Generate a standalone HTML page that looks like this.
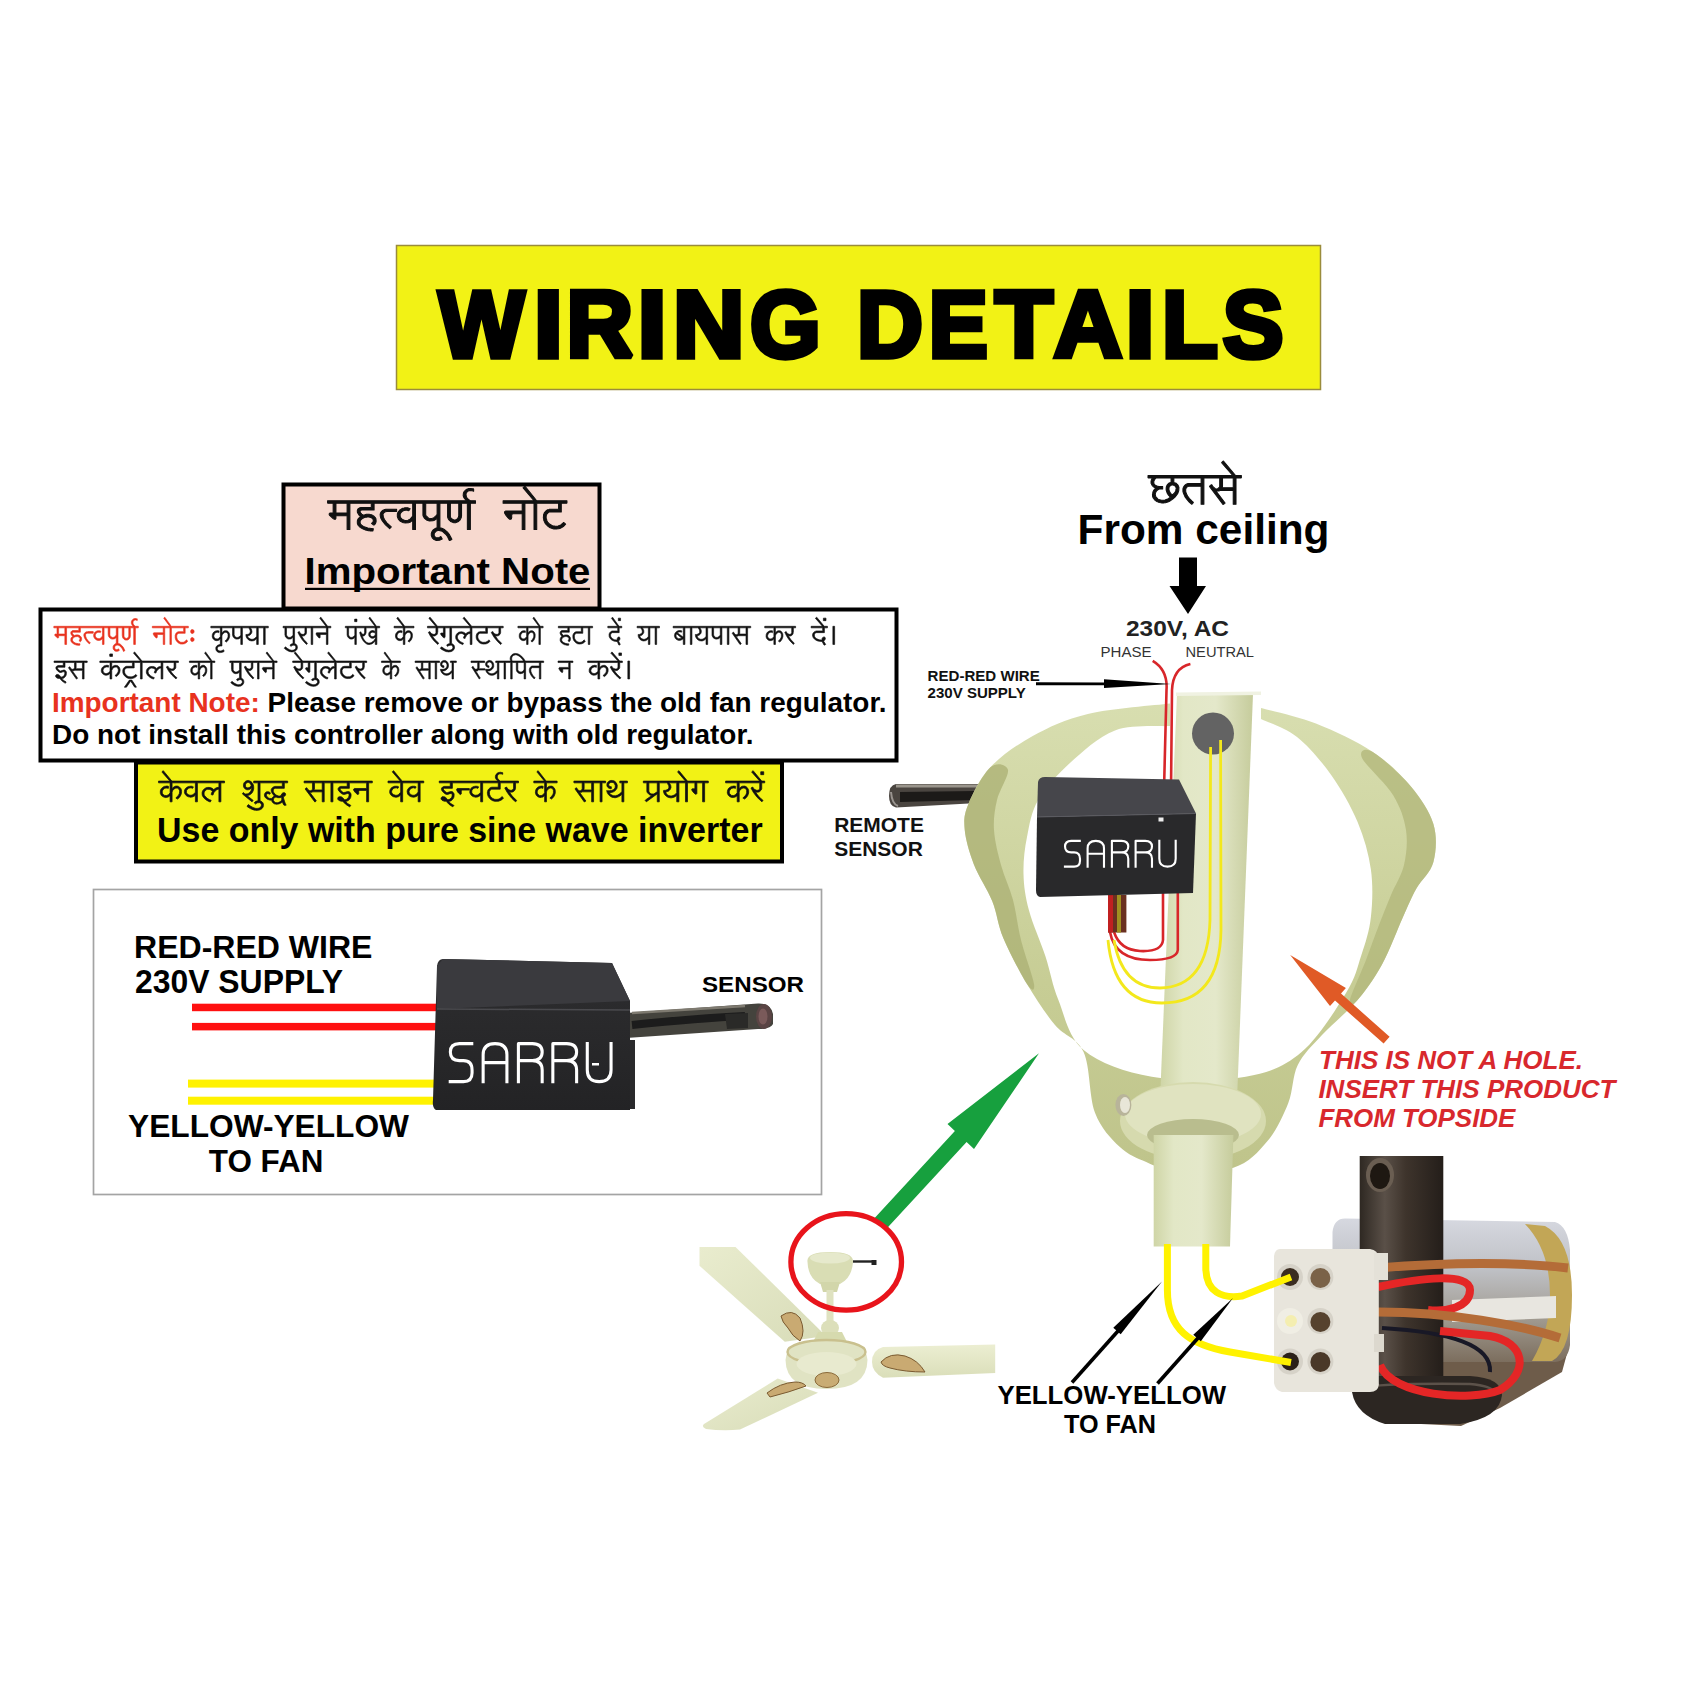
<!DOCTYPE html>
<html><head><meta charset="utf-8">
<style>
html,body{margin:0;padding:0;background:#fff;width:1688px;height:1688px;overflow:hidden}
svg{display:block}
text{font-family:"Liberation Sans",sans-serif}
.b{font-weight:bold}
</style></head>
<body>
<svg width="1688" height="1688" viewBox="0 0 1688 1688">
<defs>
 <linearGradient id="poleG" x1="0" x2="1" y1="0" y2="0">
  <stop offset="0" stop-color="#cfd5a6"/><stop offset="0.25" stop-color="#e2e7c6"/><stop offset="0.6" stop-color="#e4e8ca"/><stop offset="1" stop-color="#c6cc9c"/>
 </linearGradient>
 <linearGradient id="canG" gradientUnits="userSpaceOnUse" x1="0" y1="700" x2="0" y2="1170">
  <stop offset="0" stop-color="#d8deb0"/><stop offset="0.3" stop-color="#d0d6a3"/><stop offset="0.6" stop-color="#c7cd95"/><stop offset="1" stop-color="#bfc48b"/>
 </linearGradient>
 <linearGradient id="bladeG1" x1="0" x2="1" y1="0" y2="1">
  <stop offset="0" stop-color="#e9ecce"/><stop offset="1" stop-color="#d8dcb8"/>
 </linearGradient>
 <linearGradient id="bladeG2" x1="0" x2="0" y1="0" y2="1">
  <stop offset="0" stop-color="#eceed2"/><stop offset="1" stop-color="#dadeb9"/>
 </linearGradient>
 <linearGradient id="capG" x1="0" x2="0" y1="0" y2="1">
  <stop offset="0" stop-color="#d6d8e0"/><stop offset="0.35" stop-color="#bfc1c6"/><stop offset="0.7" stop-color="#a09a90"/><stop offset="1" stop-color="#7c6e5e"/>
 </linearGradient>
 <linearGradient id="rodG" x1="0" x2="1" y1="0" y2="0">
  <stop offset="0" stop-color="#2e2822"/><stop offset="0.3" stop-color="#5a5048"/><stop offset="0.55" stop-color="#3e342c"/><stop offset="1" stop-color="#241e1a"/>
 </linearGradient>
 <linearGradient id="boxG" x1="0" x2="0" y1="0" y2="1">
  <stop offset="0" stop-color="#2e2e30"/><stop offset="1" stop-color="#232325"/>
 </linearGradient>
<g id="logoShape" fill="none" stroke="#fff" stroke-width="7.5" stroke-linejoin="round">
 <path d="M60 4 L26 4 Q4 4 4 24.5 Q4 45 26 45 L36 45 Q57 45 57 68 L57 75 Q57 96 36 96 L0 96"/>
 <path d="M84 100 L84 31 Q84 4 113 4 Q142 4 142 31 L142 100 M84 50 L142 50"/>
 <path d="M170 100 L170 4 L204 4 Q228 4 228 24.5 Q228 45 204 45 L170 45 M204 45 Q228 45 228 68 L228 100"/>
 <path d="M254 100 L254 4 L288 4 Q312 4 312 24.5 Q312 45 288 45 L254 45 M288 45 Q312 45 312 68 L312 100"/>
 <path d="M338 0 L338 68 Q338 96 367 96 Q396 96 396 68 L396 0"/>
</g>
</defs>

<!-- ===== Title banner ===== -->
<rect x="396.5" y="245.5" width="924" height="144" fill="#f2f215" stroke="#9a8c3c" stroke-width="1.5"/>
<text class="b" transform="translate(438.75 356.95) scale(0.9597 1)" font-size="94.5" fill="#000" stroke="#000" stroke-width="5.5" stroke-linejoin="miter" stroke-miterlimit="2">W</text>
<text class="b" transform="translate(533.84 356.95) scale(1.1092 1)" font-size="94.5" fill="#000" stroke="#000" stroke-width="5.5" stroke-linejoin="miter" stroke-miterlimit="2">I</text>
<text class="b" transform="translate(566.41 356.95) scale(0.9758 1)" font-size="94.5" fill="#000" stroke="#000" stroke-width="5.5" stroke-linejoin="miter" stroke-miterlimit="2">R</text>
<text class="b" transform="translate(637.44 356.95) scale(1.1092 1)" font-size="94.5" fill="#000" stroke="#000" stroke-width="5.5" stroke-linejoin="miter" stroke-miterlimit="2">I</text>
<text class="b" transform="translate(673.06 356.95) scale(1.0466 1)" font-size="94.5" fill="#000" stroke="#000" stroke-width="5.5" stroke-linejoin="miter" stroke-miterlimit="2">N</text>
<text class="b" transform="translate(749.92 356.95) scale(0.9615 1)" font-size="94.5" fill="#000" stroke="#000" stroke-width="5.5" stroke-linejoin="miter" stroke-miterlimit="2">G</text>
<text class="b" transform="translate(856.95 356.95) scale(0.9660 1)" font-size="94.5" fill="#000" stroke="#000" stroke-width="5.5" stroke-linejoin="miter" stroke-miterlimit="2">D</text>
<text class="b" transform="translate(928.76 356.95) scale(0.9365 1)" font-size="94.5" fill="#000" stroke="#000" stroke-width="5.5" stroke-linejoin="miter" stroke-miterlimit="2">E</text>
<text class="b" transform="translate(995.09 356.95) scale(1.0009 1)" font-size="94.5" fill="#000" stroke="#000" stroke-width="5.5" stroke-linejoin="miter" stroke-miterlimit="2">T</text>
<text class="b" transform="translate(1053.70 356.95) scale(1.0029 1)" font-size="94.5" fill="#000" stroke="#000" stroke-width="5.5" stroke-linejoin="miter" stroke-miterlimit="2">A</text>
<text class="b" transform="translate(1125.44 356.95) scale(1.1092 1)" font-size="94.5" fill="#000" stroke="#000" stroke-width="5.5" stroke-linejoin="miter" stroke-miterlimit="2">I</text>
<text class="b" transform="translate(1161.95 356.95) scale(0.9667 1)" font-size="94.5" fill="#000" stroke="#000" stroke-width="5.5" stroke-linejoin="miter" stroke-miterlimit="2">L</text>
<text class="b" transform="translate(1222.83 356.95) scale(0.9643 1)" font-size="94.5" fill="#000" stroke="#000" stroke-width="5.5" stroke-linejoin="miter" stroke-miterlimit="2">S</text>

<!-- ===== Important note boxes ===== -->
<rect x="283.5" y="484.5" width="316" height="124" fill="#f7d9cf" stroke="#000" stroke-width="4"/>
<g transform="translate(318.96 471.82) scale(0.23260 0.22385)"><path fill="#111" stroke="#111" stroke-width="4.5" stroke-linejoin="round" fill-rule="evenodd" d="M334 167 287 167 286 168 283 168 273 173 268 178 264 185 264 189 263 190 264 200 266 207 271 217 286 237 304 254 311 246 292 228 284 217 277 203 276 194 275 193 276 188 278 184 283 180 291 177 334 177ZM673 129 651 129 646 126 637 117 633 109 633 105 632 104 633 96 636 91 640 87 646 84 656 84 665 87 665 77 664 76 655 75 654 74 648 74 647 75 642 75 633 79 625 87 621 95 620 106 622 113 627 121 634 128 633 129 37 129 37 139 38 140 60 140 61 141 61 183 60 184 48 184 46 185 44 188 44 192 46 195 61 209 66 212 71 212 73 208 73 197 74 196 120 196 121 197 121 258 133 258 133 141 134 140 224 140 225 141 225 158 224 159 180 159 179 160 176 160 171 163 167 167 165 172 165 180 166 183 172 193 179 200 170 208 167 213 165 219 165 230 167 236 170 241 177 248 188 255 203 261 207 261 212 263 218 263 219 264 232 264 234 254 210 251 191 244 185 240 179 233 177 228 177 221 180 215 185 210 193 205 199 203 205 203 206 202 216 202 217 203 220 203 228 207 233 213 233 216 234 217 232 225 226 230 235 238 237 238 242 233 245 226 245 223 246 222 245 210 242 204 235 197 226 192 223 192 218 190 204 190 192 194 184 189 179 183 177 179 177 175 182 171 237 171 237 141 238 140 402 140 403 141 403 198 393 210 383 216 371 217 364 215 356 210 351 204 349 199 349 190 352 183 359 176 365 173 373 172 374 171 381 172 384 174 387 173 392 165 383 161 368 161 367 162 360 163 348 170 339 182 337 188 337 201 341 211 350 221 359 226 365 228 369 228 370 229 385 228 394 224 402 217 403 218 403 258 415 258 415 141 416 140 446 140 447 141 447 194 449 200 454 208 462 215 475 220 490 219 499 215 507 209 508 210 508 250 502 252 494 257 489 262 485 269 483 275 483 285 487 295 495 303 505 307 518 306 530 300 524 289 516 294 507 295 502 293 497 288 495 283 496 274 504 265 511 262 518 262 519 263 526 264 533 268 545 279 553 290 560 306 562 307 571 303 571 300 560 279 554 271 541 259 531 253 525 251 521 251 520 250 520 141 521 140 552 140 553 141 553 202 555 208 559 215 566 222 578 227 589 227 600 222 606 216 612 204 612 200 613 199 613 141 614 140 637 140 638 141 638 258 651 258 651 141 652 140 673 140ZM566 140 600 140 601 141 601 198 600 199 600 202 596 209 593 212 587 215 580 215 572 211 567 205 565 200 565 141ZM460 140 507 140 508 141 508 189 504 196 494 205 486 208 473 207 469 205 460 195 459 192 459 141ZM73 141 74 140 120 140 121 141 121 183 120 184 74 184 73 183Z"/></g><g transform="translate(322.33 471.82) scale(0.22737 0.22385)"><path fill="#111" stroke="#111" stroke-width="4.5" stroke-linejoin="round" fill-rule="evenodd" d="M795 129 795 140 878 140 879 141 879 174 878 175 807 175 803 177 801 180 802 185 808 195 817 206 824 212 829 212 832 209 832 206 833 205 833 191 836 188 839 187 878 187 879 188 879 258 891 258 891 141 892 140 930 140 931 141 931 258 943 258 943 141 944 140 1038 140 1039 141 1039 166 1038 167 999 167 998 168 991 169 986 172 977 182 973 192 972 206 973 207 974 217 979 228 983 234 994 245 1002 250 1018 255 1033 255 1034 254 1040 254 1047 252 1060 245 1070 234 1064 228 1060 226 1058 229 1049 237 1037 242 1023 243 1022 242 1016 242 1010 240 999 233 991 224 987 217 987 214 985 210 984 200 985 199 985 194 988 188 995 181 1000 179 1051 179 1051 141 1052 140 1075 140 1076 139 1076 129 943 129 938 124 935 119 891 64 883 71 884 73 930 128 929 129Z"/></g>
<text id="t_imp" class="b" x="304.5" y="584" font-size="36.3" textLength="286" lengthAdjust="spacingAndGlyphs" fill="#000">Important Note</text>
<rect x="305" y="587.8" width="285" height="2.2" fill="#000"/>

<rect x="40.5" y="609.5" width="856" height="151" fill="#fff" stroke="#000" stroke-width="4"/>
<g transform="translate(48.90 608.14) scale(0.13290 0.14077)"><path fill="#e8321e" stroke="#e8321e" stroke-width="4.5" stroke-linejoin="round" fill-rule="evenodd" d="M333 166 294 166 293 167 282 168 273 173 267 179 263 188 263 197 264 198 265 205 272 219 284 235 304 254 312 247 294 230 284 217 277 202 277 199 276 198 276 188 283 180 288 178 333 178 334 177 334 167ZM673 129 651 129 645 125 636 115 633 108 633 97 638 89 647 84 654 84 665 88 665 76 657 75 656 74 645 74 638 76 629 82 624 88 620 98 621 111 627 121 634 128 633 129 37 129 37 140 60 140 61 141 61 183 60 184 48 184 46 185 44 188 44 192 45 194 62 210 68 213 70 213 73 209 73 197 74 196 119 196 120 197 120 258 133 258 133 141 134 140 224 140 225 141 225 158 224 159 179 159 172 162 167 167 165 171 165 181 166 184 171 192 179 200 169 209 165 218 165 231 168 238 178 249 184 253 199 260 202 260 211 263 216 263 217 264 232 264 234 257 234 253 222 253 221 252 211 251 210 250 203 249 188 242 180 234 177 227 178 219 184 211 194 205 200 203 208 203 209 202 215 202 222 204 226 206 233 214 233 217 234 218 233 219 233 222 230 227 226 230 236 239 239 237 243 232 246 224 246 213 244 207 234 196 223 191 220 191 219 190 203 190 202 191 195 192 192 194 187 191 179 183 177 178 177 175 182 171 237 171 237 141 238 140 402 140 403 141 403 198 394 209 387 214 382 216 379 216 378 217 368 216 359 212 352 205 349 198 349 191 351 185 353 182 361 175 369 172 380 172 386 175 392 165 384 161 367 161 360 163 348 170 343 175 337 187 337 202 342 213 350 221 358 226 368 229 381 229 391 226 396 223 402 217 403 218 403 258 415 258 415 141 416 140 445 140 446 141 446 188 447 189 447 195 452 206 463 216 474 220 487 220 488 219 491 219 501 214 506 210 507 211 507 250 495 256 488 263 485 268 483 274 483 286 487 295 490 299 496 304 504 307 515 307 522 305 529 301 530 299 524 289 520 292 512 295 504 294 497 288 495 281 496 275 498 271 504 265 512 262 522 263 531 267 543 277 552 289 558 300 558 302 561 308 568 304 572 303 569 297 569 295 561 280 556 273 540 258 531 253 522 251 520 249 520 141 521 140 551 140 552 141 552 195 553 196 554 206 558 214 567 223 577 227 590 227 600 222 609 212 612 205 612 202 613 201 613 141 614 140 637 140 638 141 638 258 651 258 651 141 652 140 673 140ZM566 140 600 140 601 141 601 195 600 196 600 201 598 206 591 213 586 215 581 215 574 212 568 206 565 199 565 141ZM460 140 506 140 507 141 507 191 503 197 495 204 484 208 478 208 468 204 462 198 459 191 459 141ZM73 141 74 140 119 140 120 141 120 183 119 184 74 184 73 183Z"/></g><g transform="translate(52.75 608.14) scale(0.12831 0.14077)"><path fill="#e8321e" stroke="#e8321e" stroke-width="4.5" stroke-linejoin="round" fill-rule="evenodd" d="M1084 209 1080 211 1076 216 1075 219 1075 227 1076 230 1080 235 1084 237 1091 237 1098 233 1101 228 1102 222 1100 216 1094 210ZM1084 152 1080 154 1075 161 1075 170 1077 175 1080 178 1084 180 1092 180 1097 177 1101 171 1101 168 1102 167 1101 161 1098 156 1094 153ZM776 129 776 140 860 140 861 141 861 174 860 175 788 175 783 179 783 184 788 193 795 202 804 211 808 213 811 212 814 209 814 206 815 205 815 191 818 188 821 188 822 187 860 187 861 188 861 258 873 258 873 141 874 140 912 140 913 141 913 258 925 258 925 141 926 140 1019 140 1020 141 1020 166 1019 167 979 167 969 171 962 177 959 181 954 193 954 211 955 212 956 219 962 231 974 244 983 250 997 255 1016 255 1017 254 1022 254 1029 252 1042 245 1052 234 1042 225 1033 235 1024 240 1018 242 1006 243 1005 242 998 242 992 240 982 234 972 223 967 211 966 197 967 196 967 193 971 186 975 182 979 180 982 180 983 179 1032 179 1032 141 1033 140 1057 140 1057 129 925 129 920 124 917 119 873 64 870 66 865 72 910 126 911 128 910 129Z"/></g><g transform="translate(44.39 608.14) scale(0.13564 0.14077)"><path fill="#111" stroke="#111" stroke-width="4.5" stroke-linejoin="round" fill-rule="evenodd" d="M1227 129 1227 140 1296 140 1297 141 1297 202 1285 215 1275 219 1263 218 1253 210 1250 204 1249 196 1253 184 1263 175 1272 172 1279 172 1286 175 1287 167 1288 166 1288 162 1286 161 1283 161 1282 160 1271 160 1270 161 1262 162 1249 170 1243 177 1238 189 1238 195 1237 196 1238 206 1243 217 1251 225 1256 228 1266 231 1280 230 1289 226 1296 220 1297 221 1297 258 1296 259 1290 259 1283 261 1274 266 1269 271 1264 280 1264 293 1265 294 1265 297 1269 304 1274 309 1280 313 1289 316 1300 316 1301 315 1311 314 1317 311 1319 311 1326 306 1320 295 1314 300 1312 300 1306 303 1303 303 1302 304 1292 304 1291 303 1288 303 1284 301 1277 294 1275 287 1277 280 1284 273 1290 270 1294 270 1295 269 1309 269 1309 197 1313 187 1321 178 1325 175 1333 172 1343 173 1346 175 1351 181 1354 188 1354 202 1353 203 1353 206 1351 209 1351 211 1344 222 1331 234 1342 241 1349 235 1357 225 1361 218 1366 203 1366 187 1364 180 1358 170 1350 163 1341 160 1328 161 1318 166 1310 175 1309 174 1309 141 1310 140 1386 140 1387 141 1387 191 1391 203 1401 214 1408 218 1415 220 1425 220 1426 219 1430 219 1436 217 1447 209 1448 210 1448 258 1460 258 1460 141 1461 140 1505 140 1511 147 1516 156 1518 168 1517 169 1517 172 1514 177 1507 183 1495 187 1486 187 1485 188 1487 201 1492 212 1503 224 1515 231 1523 232 1524 233 1536 233 1537 232 1544 231 1554 226 1564 218 1565 219 1565 258 1577 258 1577 141 1578 140 1615 140 1616 141 1616 258 1628 258 1628 141 1629 140 1651 140 1651 129ZM1564 140 1565 141 1565 200 1554 213 1543 219 1536 221 1525 221 1524 220 1521 220 1509 214 1503 208 1500 203 1499 198 1502 196 1510 194 1517 190 1525 182 1530 171 1530 162 1529 161 1528 154 1524 146 1520 141 1521 140ZM1400 140 1447 140 1448 141 1448 190 1446 194 1436 204 1426 208 1417 208 1410 205 1403 199 1399 189 1399 141Z"/></g><g transform="translate(50.77 608.14) scale(0.13244 0.14077)"><path fill="#111" stroke="#111" stroke-width="4.5" stroke-linejoin="round" fill-rule="evenodd" d="M2115 129 2091 129 2039 64 2035 67 2031 72 2078 128 2077 129 1754 129 1754 139 1755 140 1767 140 1768 141 1768 191 1769 192 1770 199 1774 206 1785 216 1796 220 1811 219 1819 216 1828 209 1829 210 1829 251 1828 252 1821 253 1810 259 1806 264 1815 272 1819 268 1824 265 1830 263 1838 263 1843 265 1847 269 1850 275 1850 283 1848 287 1841 294 1835 297 1828 298 1827 299 1816 299 1803 295 1788 287 1772 275 1770 276 1763 285 1767 289 1780 298 1796 306 1805 309 1814 310 1815 311 1827 311 1828 310 1834 310 1840 308 1849 303 1854 299 1858 294 1862 284 1862 273 1861 272 1861 269 1858 263 1850 255 1841 251 1841 141 1842 140 1918 140 1919 141 1919 174 1916 180 1910 185 1907 186 1899 186 1891 183 1881 174 1877 166 1866 171 1866 173 1879 197 1894 219 1909 237 1931 258 1932 258 1936 253 1938 249 1929 241 1911 222 1908 217 1904 213 1894 197 1895 196 1900 198 1913 197 1920 193 1926 187 1929 182 1931 175 1931 141 1932 140 1965 140 1966 141 1966 258 1978 258 1978 141 1979 140 2080 140 2081 141 2081 174 2080 175 2008 175 2003 179 2003 184 2006 190 2015 202 2026 212 2031 212 2034 208 2034 192 2036 189 2040 187 2080 187 2081 188 2081 258 2093 258 2093 141 2094 140 2115 140ZM1781 140 1828 140 1829 141 1829 190 1827 194 1817 204 1807 208 1798 208 1791 205 1784 199 1780 189 1780 141Z"/></g><g transform="translate(64.21 608.14) scale(0.12674 0.14077)"><path fill="#111" stroke="#111" stroke-width="4.5" stroke-linejoin="round" fill-rule="evenodd" d="M2291 79 2291 95 2292 96 2310 96 2310 78 2292 78ZM2489 129 2465 129 2460 124 2412 64 2404 71 2405 73 2452 128 2451 129 2218 129 2218 139 2219 140 2231 140 2232 141 2232 191 2236 203 2246 214 2256 219 2259 219 2260 220 2270 220 2271 219 2275 219 2281 217 2292 209 2293 210 2293 258 2305 258 2305 141 2306 140 2369 140 2370 141 2370 173 2367 181 2363 185 2361 186 2356 186 2352 184 2345 177 2341 170 2341 168 2332 172 2331 174 2340 200 2350 219 2360 233 2378 250 2387 255 2397 258 2413 258 2414 257 2418 257 2427 254 2441 246 2453 233 2454 234 2454 258 2467 258 2467 141 2468 140 2489 140ZM2383 140 2453 140 2454 141 2454 191 2451 194 2442 200 2435 202 2429 202 2423 200 2416 193 2414 187 2416 180 2422 174 2429 171 2437 171 2446 174 2450 174 2450 163 2444 160 2440 160 2439 159 2427 159 2426 160 2423 160 2412 166 2406 173 2403 180 2403 193 2404 196 2410 205 2415 209 2427 214 2438 214 2444 212 2452 206 2454 207 2454 216 2446 228 2436 237 2424 244 2414 247 2403 248 2402 247 2397 247 2385 242 2377 236 2368 227 2361 217 2352 198 2353 197 2355 198 2363 198 2370 195 2378 186 2382 174 2382 141ZM2245 140 2292 140 2293 141 2293 190 2291 194 2281 204 2271 208 2262 208 2255 205 2248 199 2244 189 2244 141Z"/></g><g transform="translate(51.14 608.14) scale(0.13229 0.14077)"><path fill="#111" stroke="#111" stroke-width="4.5" stroke-linejoin="round" fill-rule="evenodd" d="M2621 64 2613 71 2614 74 2660 128 2659 129 2592 129 2592 139 2593 140 2661 140 2662 141 2662 202 2654 212 2650 215 2640 219 2629 218 2621 213 2617 208 2615 203 2615 191 2619 183 2628 175 2633 173 2644 172 2651 175 2652 173 2653 162 2647 160 2636 160 2635 161 2627 162 2621 165 2609 176 2605 183 2603 190 2603 205 2609 218 2615 224 2627 230 2631 230 2632 231 2645 230 2654 226 2661 220 2662 221 2662 258 2674 258 2674 197 2679 186 2683 181 2689 176 2695 173 2705 172 2711 175 2715 179 2719 187 2719 193 2720 195 2719 196 2719 203 2717 209 2710 221 2697 233 2698 235 2707 241 2717 232 2724 222 2730 208 2731 196 2732 195 2731 194 2731 186 2727 175 2718 165 2713 162 2706 160 2697 160 2690 162 2683 166 2675 175 2674 174 2674 141 2675 140 2743 140 2743 129 2673 129Z"/></g><g transform="translate(18.98 608.14) scale(0.14348 0.14077)"><path fill="#111" stroke="#111" stroke-width="4.5" stroke-linejoin="round" fill-rule="evenodd" d="M2857 71 2861 77 2904 128 2903 129 2847 129 2847 140 2905 140 2906 141 2906 175 2904 179 2899 184 2895 186 2887 186 2877 182 2867 172 2864 166 2853 172 2867 198 2883 221 2893 233 2919 258 2926 249 2901 225 2890 211 2881 197 2882 196 2888 198 2897 198 2900 197 2910 191 2915 185 2917 181 2918 172 2919 171 2919 141 2920 140 2957 140 2958 141 2958 171 2956 175 2953 177 2941 177 2939 179 2938 183 2940 186 2940 188 2949 200 2957 208 2963 211 2966 211 2968 209 2970 204 2970 141 2971 140 3002 140 3003 141 3003 250 3001 252 2992 254 2984 259 2980 264 2988 272 2994 267 3004 263 3012 263 3015 264 3022 271 3024 277 3024 281 3021 288 3013 295 3006 298 2990 299 2989 298 2979 296 2965 289 2945 275 2939 282 2937 286 2949 295 2970 306 2979 309 2988 310 2989 311 3001 311 3002 310 3011 309 3023 303 3031 295 3035 287 3036 275 3035 274 3035 270 3032 264 3025 256 3015 251 3015 141 3016 140 3144 140 3145 141 3145 167 3144 168 3139 168 3129 171 3122 175 3115 182 3105 174 3093 169 3089 169 3088 168 3072 169 3064 172 3057 177 3049 186 3044 198 3044 214 3046 220 3053 232 3065 244 3072 249 3092 259 3094 259 3098 248 3094 247 3077 238 3073 235 3060 221 3056 212 3056 201 3059 193 3068 184 3074 181 3086 180 3095 183 3106 193 3100 204 3098 213 3109 216 3111 209 3119 195 3129 185 3134 182 3144 180 3145 181 3145 258 3157 258 3157 141 3158 140 3252 140 3253 141 3253 166 3252 167 3213 167 3212 168 3205 169 3200 172 3191 182 3187 192 3187 198 3186 199 3187 213 3190 222 3197 234 3211 247 3221 252 3227 254 3231 254 3232 255 3247 255 3248 254 3254 254 3261 252 3274 245 3284 234 3278 228 3274 226 3272 229 3263 237 3251 242 3237 243 3236 242 3230 242 3220 238 3209 229 3201 217 3201 214 3199 210 3198 200 3199 199 3199 194 3202 188 3209 181 3214 179 3265 179 3265 141 3266 140 3344 140 3345 141 3345 174 3342 180 3336 185 3333 186 3325 186 3317 183 3307 174 3303 166 3292 171 3292 173 3298 185 3312 208 3335 237 3357 258 3358 258 3364 250 3337 222 3334 217 3330 213 3320 197 3321 196 3326 198 3339 197 3346 193 3352 187 3355 182 3357 175 3357 141 3358 140 3375 140 3375 129 3155 129 3103 64 3098 68 3095 72 3141 126 3142 128 3141 129 2917 129 2865 64Z"/></g><g transform="translate(85.43 608.14) scale(0.12434 0.14077)"><path fill="#111" stroke="#111" stroke-width="4.5" stroke-linejoin="round" fill-rule="evenodd" d="M3607 64 3602 68 3599 72 3645 127 3644 129 3478 129 3478 139 3479 140 3547 140 3548 141 3548 202 3540 212 3530 218 3519 219 3518 218 3515 218 3507 213 3503 208 3501 203 3501 191 3505 183 3514 175 3519 173 3530 172 3537 175 3538 173 3538 168 3539 167 3539 162 3537 161 3534 161 3533 160 3522 160 3521 161 3513 162 3507 165 3495 176 3491 183 3489 190 3489 205 3491 211 3495 218 3504 226 3513 230 3526 231 3527 230 3534 229 3543 224 3547 220 3548 221 3548 258 3560 258 3560 197 3565 186 3571 179 3581 173 3591 172 3597 175 3601 179 3605 187 3605 193 3606 195 3605 196 3605 203 3603 209 3596 221 3583 233 3584 235 3593 241 3603 232 3610 222 3616 208 3617 196 3618 195 3617 194 3617 186 3613 175 3604 165 3599 162 3592 160 3583 160 3576 162 3569 166 3561 175 3560 174 3560 141 3561 140 3646 140 3647 141 3647 258 3659 258 3659 141 3660 140 3681 140 3681 129 3658 129Z"/></g><g transform="translate(75.85 608.14) scale(0.12747 0.14077)"><path fill="#111" stroke="#111" stroke-width="4.5" stroke-linejoin="round" fill-rule="evenodd" d="M3785 129 3785 140 3858 140 3859 141 3859 158 3858 159 3814 159 3808 161 3802 166 3799 173 3799 179 3802 187 3807 194 3813 200 3805 207 3800 217 3799 228 3803 239 3810 247 3817 252 3834 260 3846 262 3847 263 3852 263 3853 264 3866 264 3868 254 3865 253 3855 253 3854 252 3849 252 3848 251 3840 250 3822 242 3814 234 3811 227 3812 219 3818 211 3830 204 3839 203 3840 202 3850 202 3851 203 3854 203 3861 206 3866 211 3868 215 3868 221 3861 231 3869 238 3873 237 3877 232 3880 224 3880 213 3878 207 3869 197 3857 191 3853 191 3852 190 3839 190 3838 191 3830 192 3827 194 3821 191 3812 181 3811 175 3816 171 3871 171 3871 141 3872 140 3964 140 3965 141 3965 166 3964 167 3925 167 3918 169 3913 172 3905 180 3901 187 3899 194 3899 210 3900 211 3900 215 3906 229 3911 236 3922 246 3933 252 3939 254 3943 254 3944 255 3960 255 3961 254 3970 253 3982 248 3988 244 3994 238 3996 235 3996 233 3987 225 3977 236 3964 242 3949 243 3948 242 3939 241 3931 237 3920 227 3914 218 3912 212 3911 196 3915 187 3920 182 3927 179 3977 179 3977 141 3978 140 4019 140 4020 141 4020 258 4032 258 4032 141 4033 140 4054 140 4054 129Z"/></g><g transform="translate(86.45 608.14) scale(0.12544 0.14077)"><path fill="#111" stroke="#111" stroke-width="4.5" stroke-linejoin="round" fill-rule="evenodd" d="M4240 71 4240 89 4258 89 4258 71ZM4194 64 4185 72 4233 128 4232 129 4156 129 4156 139 4157 140 4234 140 4235 141 4235 161 4234 162 4191 162 4181 166 4171 175 4168 181 4166 188 4167 202 4170 209 4176 217 4187 226 4199 232 4208 235 4217 236 4218 237 4230 237 4235 244 4244 262 4246 263 4256 258 4242 234 4250 226 4253 220 4253 216 4254 215 4253 210 4247 205 4241 205 4237 207 4232 214 4230 221 4230 226 4229 227 4209 224 4197 219 4186 211 4179 200 4178 191 4179 190 4179 186 4183 180 4188 176 4193 174 4247 174 4247 141 4248 140 4268 140 4268 129 4246 129Z"/></g><g transform="translate(70.78 608.14) scale(0.12956 0.14077)"><path fill="#111" stroke="#111" stroke-width="4.5" stroke-linejoin="round" fill-rule="evenodd" d="M4371 129 4371 139 4372 140 4398 140 4408 153 4411 163 4411 170 4408 176 4402 182 4388 187 4379 187 4380 200 4382 206 4388 216 4396 224 4402 228 4417 233 4429 233 4430 232 4434 232 4440 230 4449 225 4457 218 4458 219 4458 258 4470 258 4470 141 4471 140 4509 140 4510 141 4510 258 4522 258 4522 141 4523 140 4544 140 4544 129ZM4457 140 4458 141 4458 200 4455 205 4446 214 4441 216 4439 218 4429 221 4418 221 4405 216 4401 213 4395 206 4392 198 4395 196 4403 194 4410 190 4415 186 4422 175 4423 172 4423 160 4416 144 4413 141 4414 140Z"/></g><g transform="translate(43.50 608.14) scale(0.13546 0.14077)"><path fill="#111" stroke="#111" stroke-width="4.5" stroke-linejoin="round" fill-rule="evenodd" d="M4648 129 4648 140 4722 140 4723 141 4723 199 4719 204 4681 176 4684 172 4689 170 4694 170 4695 169 4704 170 4709 172 4713 163 4711 161 4704 159 4689 159 4676 164 4672 167 4663 177 4660 183 4659 191 4658 192 4658 200 4663 213 4669 220 4681 227 4684 227 4689 229 4703 228 4715 223 4722 217 4723 218 4723 258 4735 258 4735 141 4736 140 4774 140 4775 141 4775 258 4787 258 4787 141 4788 140 4831 140 4836 145 4840 151 4844 161 4844 171 4842 175 4835 182 4822 187 4812 187 4812 194 4813 195 4813 199 4815 205 4820 214 4827 222 4839 230 4845 232 4849 232 4850 233 4863 233 4873 230 4885 223 4890 218 4891 219 4891 258 4903 258 4903 141 4904 140 4934 140 4935 141 4935 193 4940 205 4944 210 4950 215 4963 220 4973 220 4974 219 4978 219 4984 217 4995 209 4996 210 4996 258 5008 258 5008 141 5009 140 5047 140 5048 141 5048 258 5060 258 5060 141 5061 140 5127 140 5128 141 5128 178 5127 181 5121 187 5116 189 5109 188 5099 179 5094 170 5087 174 5084 178 5142 259 5149 255 5151 252 5113 200 5114 199 5124 199 5130 196 5185 196 5186 197 5186 258 5198 258 5198 141 5199 140 5220 140 5221 139 5221 129ZM4673 184 4675 183 4710 212 4703 216 4689 217 4683 215 4677 211 4673 206 4670 199 4670 192ZM5140 141 5141 140 5185 140 5186 141 5186 183 5185 184 5140 184 5139 183 5139 180 5140 179ZM4948 140 4995 140 4996 141 4996 190 4993 195 4984 204 4974 208 4965 208 4959 206 4950 198 4947 191 4947 141ZM4890 140 4891 141 4891 201 4889 204 4876 216 4862 221 4851 221 4844 219 4837 215 4829 207 4825 198 4828 196 4834 195 4842 191 4850 184 4855 176 4855 173 4856 172 4856 159 4854 153 4847 141 4848 140Z"/></g><g transform="translate(67.26 608.14) scale(0.13100 0.14077)"><path fill="#111" stroke="#111" stroke-width="4.5" stroke-linejoin="round" fill-rule="evenodd" d="M5324 129 5324 140 5393 140 5394 141 5394 202 5382 215 5372 219 5360 218 5350 210 5347 204 5346 196 5350 184 5360 175 5369 172 5376 172 5383 175 5384 167 5385 166 5385 162 5383 161 5380 161 5379 160 5368 160 5367 161 5359 162 5346 170 5340 177 5335 189 5335 195 5334 196 5335 206 5340 217 5348 225 5353 228 5363 231 5377 230 5386 226 5393 220 5394 221 5394 258 5406 258 5406 197 5410 187 5418 178 5422 175 5430 172 5440 173 5443 175 5448 181 5451 188 5451 202 5448 211 5441 222 5428 234 5439 241 5443 238 5454 225 5458 218 5463 203 5463 187 5461 180 5455 170 5447 163 5438 160 5425 161 5415 166 5407 175 5406 174 5406 141 5407 140 5529 140 5530 141 5530 175 5528 179 5523 184 5519 186 5511 186 5501 182 5491 172 5488 166 5477 172 5491 198 5504 217 5517 233 5543 258 5550 250 5550 249 5525 225 5514 211 5505 197 5508 196 5512 198 5521 198 5530 194 5535 190 5541 181 5542 172 5543 171 5543 141 5544 140 5560 140 5560 129Z"/></g><g transform="translate(-15.30 608.14) scale(0.14596 0.14077)"><path fill="#111" stroke="#111" stroke-width="4.5" stroke-linejoin="round" fill-rule="evenodd" d="M5811 129 5811 258 5823 258 5823 129ZM5746 71 5746 89 5764 89 5764 71ZM5700 64 5691 72 5739 128 5738 129 5662 129 5662 140 5740 140 5741 141 5741 161 5740 162 5697 162 5685 167 5677 175 5674 180 5672 186 5672 198 5673 199 5673 202 5677 211 5686 221 5698 229 5707 233 5717 235 5718 236 5736 237 5738 239 5750 262 5752 263 5762 258 5748 235 5758 222 5759 219 5759 211 5758 209 5753 205 5744 206 5740 210 5737 216 5736 226 5735 227 5718 225 5701 218 5695 214 5690 209 5685 200 5684 189 5687 182 5692 177 5699 174 5753 174 5753 141 5754 140 5774 140 5774 129 5752 129Z"/></g>
<g transform="translate(48.95 643.04) scale(0.13725 0.13923)"><path fill="#111" stroke="#111" stroke-width="4.5" stroke-linejoin="round" fill-rule="evenodd" d="M37 129 37 139 38 140 103 140 104 141 104 161 103 162 66 162 56 167 53 170 51 174 50 180 51 181 51 184 57 194 65 202 78 211 88 212 102 207 111 206 114 209 116 216 115 217 115 223 111 232 102 241 96 244 88 245 85 240 76 231 67 226 62 226 61 225 54 227 50 231 48 235 48 241 55 249 61 252 68 254 77 254 79 255 97 274 114 286 120 289 126 280 124 278 117 275 103 265 96 258 95 255 96 254 102 254 109 251 120 241 125 232 127 225 127 219 128 218 127 208 124 202 118 196 113 194 106 194 95 198 92 198 87 200 82 200 70 191 63 182 63 178 66 175 69 174 117 174 117 141 118 140 185 140 186 141 186 178 185 181 179 187 174 189 167 188 157 179 152 170 145 174 142 178 200 259 207 255 209 252 171 200 172 199 182 199 188 196 243 196 244 197 244 258 256 258 256 141 257 140 278 140 279 139 279 129ZM198 141 199 140 243 140 244 141 244 183 243 184 198 184 197 183 197 180 198 179Z"/></g><g transform="translate(44.64 643.04) scale(0.14559 0.13923)"><path fill="#111" stroke="#111" stroke-width="4.5" stroke-linejoin="round" fill-rule="evenodd" d="M547 317 562 317 588 278 591 275 594 278 595 281 603 292 604 295 617 315 619 317 630 317 630 316 599 266 582 266 550 314ZM447 79 447 95 448 96 466 96 466 78 448 78ZM379 129 379 140 448 140 449 141 449 201 446 206 438 214 427 219 419 219 413 217 404 209 401 201 401 193 405 184 413 176 423 172 431 172 438 174 440 162 434 160 422 160 421 161 417 161 411 163 406 166 398 173 393 180 389 194 390 207 394 216 403 225 408 228 418 231 426 231 439 227 447 220 449 221 449 258 461 258 461 196 467 184 474 177 481 173 491 172 496 174 502 180 505 186 505 189 506 190 506 201 504 208 500 216 494 224 483 234 494 241 508 226 515 213 517 206 517 202 518 201 518 189 514 176 510 170 500 162 493 161 492 160 479 161 471 165 462 175 461 174 461 141 462 140 602 140 603 141 603 166 602 167 563 167 556 169 549 173 542 181 537 193 537 212 540 222 548 235 561 247 571 252 577 254 581 254 582 255 598 255 599 254 608 253 614 250 616 250 627 243 634 235 634 233 627 227 624 226 616 235 605 241 602 241 597 243 587 243 586 242 580 242 574 240 572 238 567 236 560 230 554 222 551 216 549 209 549 195 551 190 559 181 564 179 615 179 615 141 616 140 657 140 658 141 658 258 670 258 670 141 671 140 799 140 800 141 800 167 799 168 794 168 784 171 777 175 769 182 760 174 748 169 744 169 743 168 727 169 726 170 723 170 713 176 705 184 701 191 699 197 699 203 698 204 699 215 701 221 707 231 712 237 724 247 732 252 747 259 749 258 753 250 753 248 744 245 729 236 716 223 712 216 711 208 710 207 711 205 711 200 714 193 719 187 726 182 733 180 745 181 753 185 760 192 760 195 756 201 753 213 764 216 769 202 777 191 787 183 792 181 799 180 800 181 800 258 812 258 812 141 813 140 888 140 889 141 889 174 887 179 882 184 877 186 870 186 860 182 852 175 847 166 840 169 836 172 851 200 873 230 902 258 909 249 897 239 882 223 872 210 864 197 865 196 871 198 883 197 889 194 897 186 901 176 901 141 902 140 919 140 919 129 669 129 618 64 613 68 610 72 656 127 655 129Z"/></g><g transform="translate(61.48 643.04) scale(0.12553 0.13923)"><path fill="#111" stroke="#111" stroke-width="4.5" stroke-linejoin="round" fill-rule="evenodd" d="M1148 64 1140 71 1141 73 1187 128 1186 129 1019 129 1019 139 1020 140 1088 140 1089 141 1089 202 1081 212 1071 218 1060 219 1059 218 1056 218 1048 213 1044 208 1042 203 1042 191 1046 183 1055 175 1060 173 1071 172 1078 175 1079 173 1079 168 1080 167 1080 162 1078 161 1075 161 1074 160 1063 160 1062 161 1054 162 1048 165 1036 176 1032 183 1030 190 1030 205 1032 211 1036 218 1045 226 1054 230 1067 231 1068 230 1075 229 1084 224 1088 220 1089 221 1089 258 1101 258 1101 197 1106 186 1112 179 1122 173 1132 172 1138 175 1142 179 1146 187 1146 193 1147 195 1146 196 1146 203 1144 209 1137 221 1124 233 1125 235 1134 241 1144 232 1151 222 1157 208 1158 196 1159 195 1158 194 1158 186 1154 175 1145 165 1140 162 1133 160 1124 160 1117 162 1110 166 1102 175 1101 174 1101 141 1102 140 1187 140 1188 141 1188 258 1200 258 1200 141 1201 140 1222 140 1222 129 1200 129 1195 124 1192 119Z"/></g><g transform="translate(55.87 643.04) scale(0.13144 0.13923)"><path fill="#111" stroke="#111" stroke-width="4.5" stroke-linejoin="round" fill-rule="evenodd" d="M1683 129 1659 129 1607 64 1602 68 1599 72 1645 126 1646 128 1645 129 1323 129 1323 140 1335 140 1336 141 1336 188 1337 189 1337 195 1342 206 1352 215 1364 220 1380 219 1389 215 1396 209 1397 210 1397 251 1396 252 1389 253 1378 259 1374 264 1383 272 1387 268 1392 265 1398 263 1406 263 1411 265 1415 269 1418 275 1418 283 1416 287 1409 294 1403 297 1396 298 1395 299 1384 299 1371 295 1356 287 1340 275 1338 276 1331 285 1335 289 1348 298 1364 306 1373 309 1382 310 1383 311 1395 311 1396 310 1402 310 1408 308 1417 303 1422 299 1426 294 1430 284 1430 273 1429 272 1429 269 1426 263 1418 255 1410 251 1410 141 1411 140 1486 140 1487 141 1487 174 1484 180 1478 185 1475 186 1467 186 1459 183 1449 174 1445 166 1434 171 1434 173 1447 197 1462 219 1477 237 1499 258 1500 258 1504 253 1506 249 1497 241 1479 222 1476 217 1472 213 1462 197 1463 196 1468 198 1481 197 1488 193 1494 187 1497 182 1499 175 1499 141 1500 140 1533 140 1534 141 1534 258 1546 258 1546 141 1547 140 1648 140 1649 141 1649 174 1648 175 1577 175 1571 179 1571 183 1573 188 1585 204 1594 212 1599 212 1602 208 1602 193 1603 191 1608 187 1648 187 1649 188 1649 258 1661 258 1661 141 1662 140 1683 140ZM1350 140 1396 140 1397 141 1397 191 1393 197 1388 202 1379 207 1376 207 1375 208 1366 208 1363 207 1355 202 1349 193 1349 141Z"/></g><g transform="translate(42.57 643.04) scale(0.14026 0.13923)"><path fill="#111" stroke="#111" stroke-width="4.5" stroke-linejoin="round" fill-rule="evenodd" d="M1794 71 1797 76 1841 128 1840 129 1783 129 1783 139 1784 140 1842 140 1843 141 1843 174 1841 179 1836 184 1831 186 1824 186 1823 185 1820 185 1811 180 1806 175 1801 166 1794 169 1790 172 1805 200 1819 220 1827 230 1856 258 1863 249 1851 239 1836 223 1826 210 1818 197 1819 196 1825 198 1837 197 1843 194 1851 186 1855 176 1855 141 1856 140 1893 140 1894 141 1894 173 1890 177 1878 177 1875 180 1875 184 1878 190 1884 198 1895 209 1899 211 1904 210 1906 207 1906 141 1907 140 1939 140 1940 141 1940 250 1938 252 1935 252 1925 256 1922 258 1917 264 1925 272 1928 269 1937 264 1949 263 1953 265 1958 270 1960 274 1960 284 1957 289 1948 296 1942 298 1938 298 1937 299 1927 299 1909 293 1907 291 1897 286 1882 275 1875 283 1874 286 1894 300 1912 308 1915 308 1920 310 1925 310 1926 311 1938 311 1939 310 1948 309 1961 302 1967 296 1972 286 1973 278 1972 277 1972 271 1969 264 1963 257 1952 251 1952 141 1953 140 2081 140 2082 141 2082 167 2081 168 2076 168 2066 171 2059 175 2051 182 2042 174 2030 169 2026 169 2025 168 2009 169 2008 170 2005 170 1995 176 1987 184 1983 191 1981 197 1981 203 1980 204 1981 215 1983 221 1989 231 1994 237 2006 247 2014 252 2029 259 2031 258 2035 250 2035 248 2026 245 2011 236 1996 220 1993 213 1993 208 1992 207 1993 205 1993 200 1996 193 2001 187 2008 182 2015 180 2027 181 2035 185 2042 192 2042 195 2038 201 2035 213 2046 216 2051 202 2059 191 2069 183 2074 181 2081 180 2082 181 2082 258 2094 258 2094 141 2095 140 2188 140 2189 141 2189 166 2188 167 2150 167 2149 168 2142 169 2137 172 2130 179 2125 188 2124 195 2123 196 2124 214 2127 223 2133 233 2140 241 2151 249 2160 253 2163 253 2168 255 2184 255 2185 254 2191 254 2200 251 2211 245 2221 234 2211 225 2204 234 2198 238 2188 242 2173 243 2172 242 2167 242 2155 237 2151 234 2141 223 2136 211 2135 197 2136 196 2136 193 2140 186 2147 180 2150 180 2151 179 2201 179 2201 141 2202 140 2281 140 2282 141 2282 172 2280 178 2274 184 2270 186 2262 186 2254 183 2243 173 2240 168 2240 166 2238 166 2229 171 2229 173 2241 196 2247 204 2248 207 2270 235 2294 258 2301 250 2273 221 2270 216 2266 212 2257 197 2259 196 2263 198 2272 198 2283 193 2288 188 2292 181 2293 174 2294 173 2294 141 2295 140 2311 140 2311 129 2092 129 2040 64 2036 67 2032 72 2079 128 2078 129 1854 129 1802 64Z"/></g><g transform="translate(78.68 643.04) scale(0.12553 0.13923)"><path fill="#111" stroke="#111" stroke-width="4.5" stroke-linejoin="round" fill-rule="evenodd" d="M2440 64 2435 68 2432 72 2479 128 2478 129 2412 129 2412 140 2481 140 2482 141 2482 201 2479 206 2471 214 2460 219 2448 218 2443 215 2437 209 2434 201 2434 193 2438 184 2446 176 2452 173 2464 172 2471 174 2473 162 2467 160 2455 160 2454 161 2450 161 2444 163 2435 169 2428 177 2423 188 2423 193 2422 194 2423 207 2427 216 2436 225 2441 228 2451 231 2459 231 2460 230 2464 230 2470 228 2481 220 2482 221 2482 258 2494 258 2494 196 2500 184 2507 177 2514 173 2517 173 2518 172 2524 172 2529 174 2537 183 2539 190 2539 201 2537 208 2533 216 2527 224 2516 234 2527 241 2541 226 2548 213 2550 206 2550 202 2551 201 2551 189 2547 176 2543 170 2533 162 2526 161 2525 160 2512 161 2504 165 2495 175 2494 174 2494 141 2495 140 2562 140 2563 139 2563 129 2492 129Z"/></g><g transform="translate(80.80 643.04) scale(0.12553 0.13923)"><path fill="#111" stroke="#111" stroke-width="4.5" stroke-linejoin="round" fill-rule="evenodd" d="M2663 129 2663 140 2712 140 2713 141 2713 178 2711 183 2708 186 2701 189 2698 189 2691 186 2685 180 2679 170 2669 177 2727 259 2737 253 2699 200 2700 199 2710 199 2715 196 2771 196 2772 197 2772 258 2784 258 2784 141 2785 140 2822 140 2823 141 2823 258 2835 258 2835 141 2836 140 2858 140 2858 129ZM2725 141 2726 140 2771 140 2772 141 2772 183 2771 184 2725 184 2724 183 2725 180ZM2877 130 2868 140 2865 149 2865 155 2867 162 2873 170 2883 175 2893 176 2893 164 2884 162 2877 154 2877 150 2879 145 2886 139 2892 137 2902 138 2906 140 2914 148 2917 156 2917 166 2912 176 2904 183 2896 187 2886 188 2885 189 2867 189 2864 188 2866 197 2869 202 2870 206 2874 212 2882 220 2890 226 2892 226 2899 230 2908 231 2909 232 2920 232 2921 231 2931 229 2947 220 2956 212 2957 213 2957 258 2969 258 2969 141 2970 140 2991 140 2992 139 2992 129 2944 129 2944 139 2945 140 2956 140 2957 141 2957 195 2949 204 2937 213 2929 217 2923 219 2919 219 2918 220 2908 220 2895 216 2890 213 2884 207 2881 202 2882 201 2888 201 2889 200 2894 200 2901 198 2911 193 2923 182 2926 177 2929 168 2929 154 2927 147 2921 137 2915 131 2908 127 2901 126 2900 125 2890 125Z"/></g><g transform="translate(75.35 643.04) scale(0.12796 0.13923)"><path fill="#111" stroke="#111" stroke-width="4.5" stroke-linejoin="round" fill-rule="evenodd" d="M3092 129 3092 140 3143 140 3144 141 3144 175 3142 182 3137 187 3130 189 3122 185 3116 179 3108 167 3098 174 3156 258 3165 252 3131 202 3132 201 3143 200 3150 194 3201 194 3201 184 3156 184 3155 183 3155 179 3156 178 3156 141 3157 140 3199 140 3199 129ZM3206 147 3206 157 3210 166 3215 171 3227 176 3233 176 3233 164 3227 163 3223 161 3218 155 3219 146 3225 140 3232 137 3240 137 3247 140 3254 147 3258 157 3258 164 3256 171 3254 174 3243 184 3237 187 3227 188 3226 189 3208 189 3205 188 3208 200 3215 212 3224 221 3231 226 3240 230 3249 231 3250 232 3261 232 3262 231 3272 229 3288 220 3297 212 3298 213 3298 258 3310 258 3310 141 3311 140 3349 140 3350 141 3350 258 3362 258 3362 141 3363 140 3401 140 3402 141 3402 258 3414 258 3414 141 3415 140 3445 140 3446 141 3446 194 3450 204 3453 208 3461 215 3474 220 3484 220 3485 219 3492 218 3498 215 3506 209 3507 210 3507 258 3519 258 3519 141 3520 140 3625 140 3626 141 3626 164 3625 165 3569 165 3560 169 3554 175 3549 184 3549 187 3548 188 3548 203 3551 213 3562 233 3570 243 3586 258 3593 249 3579 236 3569 223 3567 218 3565 216 3560 202 3560 189 3561 186 3567 179 3571 177 3625 177 3626 178 3626 258 3638 258 3638 141 3639 140 3660 140 3660 129 3516 129 3502 109 3488 95 3477 87 3462 79 3456 77 3448 76 3447 75 3431 75 3424 77 3413 83 3402 95 3398 108 3398 118 3399 119 3399 123 3402 128 3401 129 3285 129 3285 140 3297 140 3298 141 3298 195 3285 208 3278 213 3270 217 3264 219 3260 219 3259 220 3249 220 3248 219 3244 219 3238 217 3231 213 3224 206 3222 202 3223 201 3229 201 3230 200 3235 200 3242 198 3256 190 3263 183 3268 174 3270 167 3269 151 3264 140 3258 133 3249 127 3246 127 3241 125 3231 125 3218 130 3210 138ZM3459 140 3506 140 3507 141 3507 189 3503 196 3493 205 3485 208 3472 207 3468 205 3459 195 3458 192 3458 141ZM3410 108 3414 98 3422 90 3428 87 3436 86 3437 85 3449 86 3458 89 3468 94 3479 102 3495 119 3500 128 3499 129 3415 129 3411 123Z"/></g><g transform="translate(86.02 643.04) scale(0.12553 0.13923)"><path fill="#111" stroke="#111" stroke-width="4.5" stroke-linejoin="round" fill-rule="evenodd" d="M3760 129 3760 140 3844 140 3845 141 3845 174 3844 175 3772 175 3767 179 3767 184 3770 190 3779 202 3790 212 3795 212 3798 208 3798 192 3800 189 3804 187 3844 187 3845 188 3845 258 3857 258 3857 141 3858 140 3879 140 3879 129Z"/></g><g transform="translate(1.27 643.04) scale(0.14736 0.13923)"><path fill="#111" stroke="#111" stroke-width="4.5" stroke-linejoin="round" fill-rule="evenodd" d="M4252 129 4252 258 4264 258 4264 129ZM4191 71 4191 89 4209 89 4209 71ZM4145 64 4136 72 4184 128 4183 129 3979 129 3979 140 4048 140 4049 141 4049 202 4037 215 4027 219 4015 218 4005 210 4002 204 4001 196 4005 184 4015 175 4024 172 4031 172 4038 175 4039 167 4040 166 4040 162 4038 161 4035 161 4034 160 4023 160 4022 161 4014 162 4001 170 3995 177 3990 189 3990 195 3989 196 3990 206 3995 217 4003 225 4008 228 4018 231 4032 230 4041 226 4048 220 4049 221 4049 258 4061 258 4061 197 4065 187 4073 178 4077 175 4085 172 4095 173 4098 175 4103 181 4106 188 4106 202 4103 211 4096 222 4083 234 4094 241 4098 238 4109 225 4113 218 4118 203 4118 187 4116 180 4110 170 4102 163 4093 160 4080 161 4070 166 4062 175 4061 174 4061 141 4062 140 4184 140 4185 141 4185 174 4183 179 4178 184 4173 186 4166 186 4156 182 4148 175 4143 166 4136 169 4132 172 4147 200 4169 230 4198 258 4205 249 4193 239 4178 223 4168 210 4160 197 4161 196 4167 198 4179 197 4185 194 4193 186 4197 176 4197 141 4198 140 4215 140 4215 129 4197 129Z"/></g>
<text id="t_l3" class="b" x="52" y="712" font-size="27.6" textLength="834.5" lengthAdjust="spacingAndGlyphs"><tspan fill="#e8321e">Important Note:</tspan><tspan fill="#000"> Please remove or bypass the old fan regulator.</tspan></text>
<text id="t_l4" class="b" x="52" y="743.6" font-size="27" textLength="701.5" lengthAdjust="spacingAndGlyphs" fill="#000">Do not install this controller along with old regulator.</text>

<rect x="136" y="762.5" width="646" height="99" fill="#f2f215" stroke="#000" stroke-width="4"/>
<g transform="translate(152.37 760.36) scale(0.16552 0.16077)"><path fill="#111" stroke="#111" stroke-width="4.5" stroke-linejoin="round" fill-rule="evenodd" d="M58 71 59 74 105 128 104 129 37 129 37 139 38 140 106 140 107 141 107 202 99 212 95 215 85 219 74 218 66 213 62 208 60 203 60 191 64 183 73 175 78 173 89 172 96 175 97 173 98 162 92 160 81 160 80 161 72 162 66 165 54 176 50 183 48 190 48 205 54 218 60 224 72 230 76 230 77 231 90 230 99 226 106 220 107 221 107 258 119 258 119 197 124 186 130 179 140 173 150 172 156 175 160 179 164 187 164 193 165 195 164 196 164 203 162 209 155 221 142 233 143 235 152 241 162 232 169 222 175 208 176 196 177 195 176 194 176 186 172 175 163 165 158 162 151 160 142 160 135 162 128 166 120 175 119 174 119 141 120 140 259 140 260 141 260 198 251 209 240 216 228 217 221 215 214 211 209 206 206 200 206 189 209 183 216 176 219 174 225 172 229 172 230 171 238 172 242 175 248 165 243 162 240 162 239 161 225 161 224 162 220 162 211 166 205 170 200 175 195 184 194 194 193 195 194 196 194 202 199 213 207 221 218 227 226 228 227 229 241 228 254 222 259 217 260 218 260 258 272 258 272 141 273 140 401 140 402 141 402 167 401 168 396 168 386 171 379 175 371 182 362 174 350 169 334 168 333 169 325 170 315 176 305 187 301 197 300 208 301 209 301 215 303 221 309 231 314 237 329 249 344 257 350 259 355 250 355 248 346 245 331 236 316 220 313 213 313 208 312 207 313 205 313 200 316 193 321 187 328 182 335 180 347 181 355 185 362 192 362 195 358 201 355 213 366 216 371 202 379 191 389 183 394 181 401 180 402 181 402 258 414 258 414 141 415 140 436 140 436 129 118 129 66 64Z"/></g><g transform="translate(151.55 760.36) scale(0.16743 0.16077)"><path fill="#111" stroke="#111" stroke-width="4.5" stroke-linejoin="round" fill-rule="evenodd" d="M610 129 610 140 635 140 636 141 636 250 634 252 631 252 621 256 618 258 613 264 621 272 624 269 633 264 645 263 649 265 654 270 656 274 656 284 653 289 644 296 638 298 634 298 633 299 623 299 605 293 603 291 593 286 578 275 570 285 570 286 576 291 590 300 608 308 611 308 616 310 621 310 622 311 634 311 635 310 644 309 651 306 657 302 663 296 667 289 668 281 669 280 667 268 665 264 659 257 648 251 648 141 649 140 780 140 781 141 781 161 780 162 736 162 725 167 717 176 715 181 715 192 716 193 716 196 725 212 734 221 730 223 722 231 718 238 706 237 699 234 689 225 687 221 686 214 689 209 692 207 697 207 704 211 711 204 706 199 698 195 687 196 682 199 678 203 674 213 675 223 679 231 690 241 705 247 716 248 718 250 718 253 723 262 733 270 739 272 743 272 744 273 761 271 772 266 782 259 785 268 791 279 804 279 799 268 799 266 796 261 788 234 788 227 796 222 800 216 801 210 799 205 794 201 787 201 783 203 778 208 773 220 766 221 765 222 756 221 745 216 740 212 731 202 727 193 727 183 732 177 738 174 793 174 793 141 794 140 813 140 813 129ZM728 241 730 237 734 233 743 228 754 232 768 232 775 230 777 236 778 247 771 255 761 261 754 263 742 263 737 261 729 252 728 249ZM571 126 562 130 558 133 553 139 550 145 550 148 549 149 549 162 551 168 559 178 569 183 579 183 580 182 583 182 593 176 597 170 598 171 598 177 597 178 596 185 588 198 581 204 574 208 562 210 555 206 548 200 543 207 543 209 599 257 601 257 607 249 570 219 571 218 581 217 589 213 599 204 603 198 608 187 608 184 610 179 610 161 609 160 608 153 604 144 600 138 594 132 585 127 582 127 581 126ZM574 138 580 138 584 140 592 148 595 154 594 159 589 165 585 168 577 171 571 171 566 168 562 163 561 160 561 151 563 146 569 140Z"/></g><g transform="translate(151.40 760.36) scale(0.16762 0.16077)"><path fill="#111" stroke="#111" stroke-width="4.5" stroke-linejoin="round" fill-rule="evenodd" d="M911 129 911 140 960 140 961 141 961 178 960 181 954 187 949 189 942 188 932 179 927 170 920 174 917 178 975 259 982 255 984 252 946 200 947 199 957 199 963 196 1018 196 1019 197 1019 258 1031 258 1031 141 1032 140 1070 140 1071 141 1071 258 1083 258 1083 141 1084 140 1167 140 1168 141 1168 161 1167 162 1130 162 1129 163 1126 163 1121 166 1116 171 1114 175 1114 183 1120 193 1132 205 1142 211 1151 212 1170 206 1176 207 1179 212 1179 221 1175 231 1173 234 1164 242 1156 245 1152 245 1141 232 1133 227 1125 226 1124 225 1123 226 1120 226 1114 230 1112 234 1112 242 1117 248 1125 252 1132 254 1141 254 1157 271 1167 279 1183 289 1185 288 1186 285 1190 280 1170 268 1158 255 1159 254 1165 254 1171 252 1177 248 1185 239 1189 231 1189 228 1191 223 1191 210 1187 201 1183 197 1177 194 1170 194 1155 199 1146 200 1139 196 1129 186 1126 180 1127 177 1132 174 1181 174 1181 141 1182 140 1283 140 1284 141 1284 174 1283 175 1211 175 1206 179 1206 184 1209 190 1218 202 1229 212 1234 212 1237 208 1237 192 1239 189 1243 187 1283 187 1284 188 1284 258 1296 258 1296 141 1297 140 1318 140 1318 129ZM973 141 974 140 1018 140 1019 141 1019 183 1018 184 973 184 972 183 972 180 973 179Z"/></g><g transform="translate(154.71 760.36) scale(0.16486 0.16077)"><path fill="#111" stroke="#111" stroke-width="4.5" stroke-linejoin="round" fill-rule="evenodd" d="M1441 71 1442 73 1489 128 1488 129 1415 129 1415 139 1416 140 1491 140 1492 141 1492 197 1489 202 1479 212 1474 215 1468 217 1460 217 1447 212 1441 206 1438 201 1437 193 1440 184 1445 178 1449 175 1456 172 1466 171 1472 173 1474 175 1480 166 1479 164 1471 161 1456 161 1449 163 1438 169 1431 176 1426 187 1426 192 1425 193 1426 203 1430 212 1435 218 1447 226 1454 228 1458 228 1459 229 1468 229 1469 228 1473 228 1479 226 1491 217 1492 218 1492 258 1504 258 1504 141 1505 140 1597 140 1598 141 1598 197 1595 202 1585 212 1574 217 1566 217 1559 215 1553 212 1547 206 1544 201 1544 197 1543 196 1543 193 1546 184 1550 179 1555 175 1562 172 1567 172 1568 171 1572 171 1578 173 1580 175 1586 165 1577 161 1562 161 1555 163 1544 169 1537 176 1534 181 1532 187 1531 197 1532 198 1532 203 1536 212 1542 219 1549 224 1556 227 1564 228 1565 229 1579 228 1590 223 1597 217 1598 218 1598 258 1610 258 1610 141 1611 140 1632 140 1632 129 1502 129 1497 124 1449 64Z"/></g><g transform="translate(154.88 760.36) scale(0.16446 0.16077)"><path fill="#111" stroke="#111" stroke-width="4.5" stroke-linejoin="round" fill-rule="evenodd" d="M1834 180 1836 188 1842 198 1846 203 1856 212 1860 212 1863 209 1863 191 1864 189 1868 186 1871 185 1912 185 1912 175 1839 175 1837 176ZM2211 129 2101 129 2099 128 2087 117 2083 109 2082 102 2083 101 2083 96 2086 91 2090 87 2096 84 2106 84 2115 87 2115 77 2114 76 2105 75 2104 74 2092 75 2083 79 2075 87 2072 92 2071 99 2070 100 2071 110 2077 121 2084 128 2083 129 1729 129 1729 139 1730 140 1795 140 1796 141 1796 161 1795 162 1758 162 1748 167 1745 170 1743 174 1742 180 1743 181 1743 184 1749 194 1757 202 1766 209 1774 212 1780 212 1794 207 1803 206 1806 209 1808 216 1807 217 1807 223 1803 232 1794 241 1788 244 1780 245 1777 240 1768 231 1759 226 1754 226 1753 225 1746 227 1742 231 1740 235 1740 241 1747 249 1753 252 1760 254 1769 254 1771 255 1789 274 1806 286 1812 289 1818 280 1816 278 1809 275 1795 265 1788 258 1787 255 1788 254 1794 254 1801 251 1812 241 1817 232 1819 225 1819 219 1820 218 1819 208 1816 202 1810 196 1805 194 1798 194 1779 200 1774 200 1763 192 1755 182 1755 178 1758 175 1761 174 1809 174 1809 141 1810 140 1980 140 1981 141 1981 198 1972 209 1961 216 1949 217 1942 215 1935 211 1930 206 1927 200 1927 189 1930 183 1937 176 1940 174 1946 172 1950 172 1951 171 1959 172 1963 175 1969 165 1964 162 1961 162 1960 161 1946 161 1945 162 1941 162 1932 166 1926 170 1921 175 1916 184 1915 194 1914 195 1915 196 1915 202 1920 213 1928 221 1939 227 1947 228 1948 229 1962 228 1975 222 1980 217 1981 218 1981 258 1993 258 1993 141 1994 140 2087 140 2088 141 2088 166 2087 167 2049 167 2039 170 2029 179 2024 188 2023 195 2022 196 2022 208 2023 209 2023 214 2028 227 2036 238 2044 245 2054 251 2067 255 2090 254 2107 247 2110 245 2120 234 2110 225 2103 234 2097 238 2087 242 2072 243 2071 242 2066 242 2054 237 2050 234 2040 223 2035 211 2034 197 2035 196 2035 193 2039 186 2046 180 2049 180 2050 179 2100 179 2100 141 2101 140 2180 140 2181 141 2181 174 2178 180 2172 185 2169 186 2161 186 2153 183 2143 174 2139 166 2128 171 2128 173 2141 197 2156 219 2171 237 2185 251 2194 258 2200 249 2191 241 2173 222 2170 217 2166 213 2156 197 2157 196 2162 198 2175 197 2182 193 2188 187 2191 182 2193 175 2193 141 2194 140 2211 140Z"/></g><g transform="translate(176.76 760.36) scale(0.15469 0.16077)"><path fill="#111" stroke="#111" stroke-width="4.5" stroke-linejoin="round" fill-rule="evenodd" d="M2336 64 2328 71 2329 73 2376 128 2375 129 2308 129 2308 140 2377 140 2378 141 2378 202 2366 215 2356 219 2344 218 2334 210 2331 204 2331 200 2330 199 2331 191 2334 184 2341 177 2348 173 2360 172 2367 175 2369 162 2363 160 2352 160 2351 161 2343 162 2337 165 2330 170 2324 177 2319 189 2319 195 2318 196 2319 206 2324 217 2332 225 2337 228 2347 231 2355 231 2356 230 2364 229 2370 226 2377 220 2378 221 2378 258 2390 258 2390 197 2394 187 2402 178 2406 175 2414 172 2424 173 2427 175 2432 181 2435 188 2435 202 2432 211 2425 222 2412 234 2423 241 2427 238 2438 225 2442 218 2447 203 2447 187 2445 180 2439 170 2431 163 2422 160 2409 161 2399 166 2391 175 2390 174 2390 141 2391 140 2459 140 2459 129 2389 129 2384 124Z"/></g><g transform="translate(157.74 760.36) scale(0.16281 0.16077)"><path fill="#111" stroke="#111" stroke-width="4.5" stroke-linejoin="round" fill-rule="evenodd" d="M2556 129 2556 139 2557 140 2606 140 2607 141 2607 176 2605 182 2600 187 2595 189 2591 189 2586 187 2576 177 2572 170 2563 176 2563 178 2620 259 2630 253 2592 200 2593 199 2603 199 2609 196 2664 196 2665 197 2665 258 2677 258 2677 141 2678 140 2716 140 2717 141 2717 258 2729 258 2729 141 2730 140 2751 140 2751 129ZM2619 141 2620 140 2664 140 2665 141 2665 183 2664 184 2619 184 2618 183 2618 177 2619 176ZM2769 131 2763 137 2760 142 2759 150 2758 151 2759 153 2759 159 2762 165 2769 172 2780 176 2786 176 2786 164 2783 164 2776 161 2771 156 2771 153 2770 152 2771 147 2773 144 2779 139 2785 137 2796 138 2801 141 2805 145 2810 155 2810 167 2805 176 2800 181 2789 187 2779 188 2778 189 2760 189 2757 188 2758 189 2760 199 2766 210 2775 220 2782 225 2790 229 2796 231 2802 231 2803 232 2813 232 2829 227 2839 221 2850 212 2851 213 2851 258 2863 258 2863 141 2864 140 2885 140 2885 129 2838 129 2838 140 2850 140 2851 141 2851 194 2849 197 2835 210 2825 216 2812 220 2801 220 2791 217 2781 211 2778 208 2775 202 2776 201 2787 200 2799 196 2807 191 2816 182 2821 173 2821 170 2822 169 2822 153 2821 152 2821 149 2815 138 2807 130 2801 127 2794 126 2793 125 2783 125 2776 127Z"/></g><g transform="translate(142.46 760.36) scale(0.16796 0.16077)"><path fill="#111" stroke="#111" stroke-width="4.5" stroke-linejoin="round" fill-rule="evenodd" d="M3369 129 3245 129 3194 64 3190 67 3186 72 3232 128 3231 129 2982 129 2982 139 2983 140 3002 140 3003 141 3003 193 3006 201 3017 213 3024 217 3029 218 3031 220 2995 246 2993 249 3000 258 3064 209 3065 210 3065 258 3077 258 3077 141 3078 140 3121 140 3127 146 3132 154 3134 160 3134 165 3135 166 3134 167 3134 171 3133 174 3125 182 3116 186 3103 187 3102 188 3103 198 3107 209 3111 215 3121 225 3132 231 3139 232 3140 233 3153 233 3154 232 3161 231 3171 226 3180 219 3181 220 3181 258 3194 258 3194 141 3195 140 3232 140 3233 141 3233 258 3245 258 3245 141 3246 140 3288 140 3289 141 3289 173 3285 177 3273 177 3271 178 3270 184 3278 197 3290 209 3294 211 3297 211 3301 206 3301 141 3302 140 3334 140 3335 141 3335 258 3347 258 3347 141 3348 140 3369 140ZM3180 140 3181 141 3181 201 3173 211 3166 216 3152 221 3141 221 3132 218 3127 215 3119 207 3116 198 3118 196 3121 196 3127 193 3129 193 3135 189 3143 180 3147 168 3145 155 3137 141 3138 140ZM3016 140 3064 140 3065 141 3065 195 3046 208 3043 209 3032 209 3025 206 3018 199 3015 192 3015 141Z"/></g><g transform="translate(151.04 760.36) scale(0.16577 0.16077)"><path fill="#111" stroke="#111" stroke-width="4.5" stroke-linejoin="round" fill-rule="evenodd" d="M3678 71 3678 89 3696 89 3696 71ZM3632 64 3623 72 3671 128 3670 129 3466 129 3466 140 3535 140 3536 141 3536 202 3524 215 3514 219 3502 218 3492 210 3489 204 3488 196 3492 184 3502 175 3511 172 3518 172 3525 175 3526 167 3527 166 3527 162 3525 161 3522 161 3521 160 3510 160 3509 161 3501 162 3488 170 3482 177 3477 189 3477 195 3476 196 3477 206 3482 217 3490 225 3495 228 3505 231 3519 230 3528 226 3535 220 3536 221 3536 258 3548 258 3548 197 3552 187 3560 178 3564 175 3572 172 3582 173 3585 175 3590 181 3593 188 3593 202 3590 211 3583 222 3570 234 3581 241 3585 238 3596 225 3600 218 3605 203 3605 187 3603 180 3597 170 3589 163 3580 160 3567 161 3557 166 3549 175 3548 174 3548 141 3549 140 3671 140 3672 141 3672 174 3670 179 3665 184 3660 186 3653 186 3643 182 3635 175 3630 166 3623 169 3619 172 3634 200 3656 230 3685 258 3692 249 3680 239 3665 223 3655 210 3647 197 3648 196 3654 198 3666 197 3672 194 3680 186 3684 176 3684 141 3685 140 3702 140 3702 129 3684 129Z"/></g>
<text id="t_use" class="b" x="157" y="841.8" font-size="34.6" textLength="605.6" lengthAdjust="spacingAndGlyphs" fill="#000">Use only with pure sine wave inverter</text>

<!-- ===== Left product box ===== -->
<rect x="93.5" y="889.5" width="728" height="305" fill="#fff" stroke="#a4a4a4" stroke-width="1.7"/>
<text id="t_rr" class="b" x="134" y="957.8" font-size="31.8" textLength="238.5" lengthAdjust="spacingAndGlyphs" fill="#000">RED-RED WIRE</text>
<text id="t_230" class="b" x="135" y="993" font-size="32.5" textLength="208" lengthAdjust="spacingAndGlyphs" fill="#000">230V SUPPLY</text>
<rect x="192" y="1003.7" width="250" height="7.5" fill="#ff1010"/>
<rect x="192" y="1022.9" width="250" height="7.5" fill="#ff1010"/>
<rect x="188" y="1079.6" width="254" height="8" fill="#fff200"/>
<rect x="188" y="1096.7" width="254" height="8" fill="#fff200"/>
<text id="t_yy" class="b" x="128" y="1137.2" font-size="31" textLength="281" lengthAdjust="spacingAndGlyphs" fill="#000">YELLOW-YELLOW</text>
<text id="t_tf" class="b" x="208.8" y="1172" font-size="31" textLength="114.5" lengthAdjust="spacingAndGlyphs" fill="#000">TO FAN</text>
<text id="t_sen" class="b" x="702" y="991.5" font-size="22.5" textLength="102" lengthAdjust="spacingAndGlyphs" fill="#000">SENSOR</text>
<!-- sensor cable -->
<path d="M626 1013 L758 1003.5 Q771 1003 773 1014 L773 1024 Q771 1029 758 1029 L626 1038 Z" fill="#44433d"/>
<path d="M632 1025 Q700 1018 745 1016" stroke="#1c1c1c" stroke-width="8" fill="none"/>
<path d="M632 1013 L745 1006" stroke="#7e7a70" stroke-width="2.5" fill="none"/>
<path d="M725 1014 L748 1013 L748 1028 L727 1029 Z" fill="#2a2a28"/>
<ellipse cx="764" cy="1016.5" rx="8" ry="12.5" fill="#5a4444"/>
<ellipse cx="763" cy="1016.5" rx="4.5" ry="8" fill="#7a5a5a"/>
<!-- black box -->
<path d="M443 959 L612 963 L630 1001 L630 1110 L436 1110 Q432 1108 433 1100 L437 966 Q438 959 443 959 Z" fill="url(#boxG)"/>
<path d="M443 959 L612 963 L630 1001 L437 1009 L437 966 Z" fill="#3a3a3e"/>
<path d="M437 1009 L630 1010" stroke="#4a4a4e" stroke-width="1.5"/>
<rect x="630" y="1040" width="5" height="69" fill="#2a2a2c"/>
<use href="#logoShape" transform="translate(448.7 1042) scale(0.41 0.413)"/>
<rect x="592" y="1063" width="7" height="2.5" fill="#fff"/>

<!-- ===== Right diagram ===== -->
<!-- remote sensor -->
<path d="M896 784 L978 784 L978 803 L896 807.6 Q889 806 889 796 Q889 785 896 784 Z" fill="#4a4540"/>
<path d="M900 792 L976 791 L976 800 L900 802 Z" fill="#1c1a18"/>
<path d="M896 786 L978 786" stroke="#9a958c" stroke-width="3"/>
<path d="M891 792 Q892 804 898 806" stroke="#9a9590" stroke-width="2" fill="none"/>
<!-- canopy -->
<path d="M1170.0 703.5 C1156.3 705.2 1110.7 708.5 1087.8 713.9 C1064.9 719.3 1048.9 727.1 1032.7 736.0 C1016.5 744.9 1001.1 755.9 990.4 767.2 C979.7 778.5 972.7 793.5 968.4 803.9 C964.1 814.3 963.8 819.5 964.7 829.6 C965.6 839.7 969.3 852.5 973.9 864.5 C978.5 876.5 987.4 889.0 992.3 901.3 C997.2 913.5 997.5 924.2 1003.3 938.0 C1009.1 951.8 1018.4 969.5 1027.0 984.0 C1035.6 998.5 1045.6 1013.7 1055.0 1025.0 C1064.4 1036.3 1076.9 1037.4 1083.6 1052.0 C1090.3 1066.6 1089.0 1096.9 1095.0 1112.7 C1101.0 1128.5 1111.1 1138.6 1119.6 1146.8 C1128.1 1155.0 1137.3 1158.2 1146.2 1162.0 C1155.1 1165.8 1158.2 1168.6 1172.7 1169.6 C1187.2 1170.5 1217.6 1172.5 1233.4 1167.7 C1249.2 1162.9 1258.3 1151.8 1267.5 1141.0 C1276.7 1130.2 1283.2 1115.7 1288.3 1103.0 C1293.3 1090.3 1292.2 1076.3 1297.8 1065.0 C1303.4 1053.7 1312.0 1045.8 1322.0 1035.0 C1332.0 1024.2 1347.6 1011.8 1357.6 1000.0 C1367.6 988.2 1374.4 978.3 1382.0 964.5 C1389.6 950.7 1397.3 929.6 1403.0 917.0 C1408.7 904.4 1411.3 897.8 1416.4 888.6 C1421.5 879.4 1430.6 872.8 1433.4 862.0 C1436.2 851.2 1437.2 836.6 1433.4 824.0 C1429.6 811.4 1420.8 798.2 1410.7 786.2 C1400.6 774.2 1388.6 762.4 1372.8 752.0 C1357.0 741.6 1334.5 730.9 1315.9 723.6 C1297.3 716.3 1270.2 710.6 1261.0 708.0 L1261.0 719.0 C1267.0 722.0 1285.3 727.7 1297.0 737.0 C1308.7 746.3 1320.9 760.6 1331.0 774.8 C1341.1 789.0 1350.9 806.2 1357.6 822.0 C1364.2 837.8 1368.7 853.8 1370.9 869.6 C1373.1 885.4 1372.5 902.8 1370.9 917.0 C1369.3 931.2 1365.6 942.3 1361.4 955.0 C1357.2 967.7 1356.0 976.8 1346.0 993.0 C1336.0 1009.2 1318.3 1038.0 1301.6 1052.0 C1284.9 1066.0 1270.7 1072.6 1245.7 1076.7 C1220.7 1080.8 1178.8 1081.2 1151.8 1076.7 C1124.8 1072.2 1099.2 1062.8 1083.6 1050.0 C1068.0 1037.2 1064.8 1015.6 1058.4 1000.0 C1052.1 984.4 1050.4 971.3 1045.5 956.4 C1040.6 941.5 1032.7 924.3 1029.0 910.5 C1025.3 896.7 1023.8 886.0 1023.5 873.7 C1023.2 861.5 1024.5 849.3 1027.0 837.0 C1029.5 824.7 1031.1 812.2 1038.2 800.0 C1045.3 787.8 1056.6 775.1 1069.4 763.5 C1082.2 751.9 1098.2 736.6 1115.0 730.4 C1131.8 724.1 1160.8 726.7 1170.0 726.0Z" fill="url(#canG)"/>
<path d="M990.4 767.2 C983.8 772.9 972.7 793.5 968.4 803.9 C964.1 814.3 963.8 819.5 964.7 829.6 C965.6 839.7 969.3 852.5 973.9 864.5 C978.5 876.5 987.4 889.0 992.3 901.3 C997.2 913.5 997.5 924.2 1003.3 938.0 C1009.1 951.8 1021.9 976.3 1027.0 984.0 C1032.1 991.7 1035.0 991.3 1034.0 984.0 C1033.0 976.7 1024.5 954.0 1021.0 940.0 C1017.5 926.0 1016.3 912.5 1013.0 900.0 C1009.7 887.5 1004.2 876.7 1001.0 865.0 C997.8 853.3 994.7 840.8 994.0 830.0 C993.3 819.2 994.7 810.0 997.0 800.0 C999.3 790.0 1009.1 775.5 1008.0 770.0 C1006.9 764.5 997.0 761.6 990.4 767.2Z" fill="#adb175" opacity="0.8"/>
<path d="M1372.8 752.0 C1380.9 756.7 1400.6 774.2 1410.7 786.2 C1420.8 798.2 1429.6 811.4 1433.4 824.0 C1437.2 836.6 1436.2 851.2 1433.4 862.0 C1430.6 872.8 1421.5 879.4 1416.4 888.6 C1411.3 897.8 1408.7 904.4 1403.0 917.0 C1397.3 929.6 1389.6 950.7 1382.0 964.5 C1374.4 978.3 1362.9 994.1 1357.6 1000.0 C1352.3 1005.9 1348.6 1006.7 1350.0 1000.0 C1351.4 993.3 1361.2 972.5 1366.0 960.0 C1370.8 947.5 1374.8 935.8 1379.0 925.0 C1383.2 914.2 1386.8 905.0 1391.0 895.0 C1395.2 885.0 1401.5 875.8 1404.0 865.0 C1406.5 854.2 1407.8 841.7 1406.0 830.0 C1404.2 818.3 1400.3 807.0 1393.0 795.0 C1385.7 783.0 1365.4 765.2 1362.0 758.0 C1358.6 750.8 1364.7 747.3 1372.8 752.0Z" fill="#b3b87c" opacity="0.8"/>
<!-- upper pole -->
<path d="M1177 694 L1253 694 L1237 1100 L1160 1100 Z" fill="url(#poleG)"/>
<path d="M1176 692.5 L1261 691.5 L1261 695 L1176 696 Z" fill="#f0f2e2"/>
<circle cx="1213" cy="733.5" r="21" fill="#636363"/>
<!-- collar -->
<ellipse cx="1193" cy="1121" rx="73" ry="39" fill="#d6daae"/>
<ellipse cx="1193" cy="1114" rx="68" ry="30" fill="#e0e3c0"/>
<ellipse cx="1193" cy="1135" rx="46" ry="16" fill="#b9bd8e"/>
<ellipse cx="1123.4" cy="1105" rx="8" ry="11" fill="#b8b49a"/>
<ellipse cx="1125" cy="1105" rx="5" ry="8" fill="#e8e6d8"/>
<!-- lower pole -->
<path d="M1153.7 1135 L1233.4 1135 L1230 1246.6 L1153.7 1246.6 Z" fill="url(#poleG)"/>
<!-- red wires top -->
<path d="M1152.7 660.8 Q1168 670 1166.5 690 L1164 790" stroke="#d8262a" stroke-width="2.6" fill="none"/>
<path d="M1190.4 664 Q1173 668 1172 690 L1171 790" stroke="#d8262a" stroke-width="2.6" fill="none"/>
<path d="M1163 890 L1163 940 Q1162 952 1140 951 Q1120 950 1114 932" stroke="#d8262a" stroke-width="2.6" fill="none"/>
<path d="M1177.8 890 L1177.8 950 Q1177 960 1150 960 Q1115 960 1110 932" stroke="#d8262a" stroke-width="2.6" fill="none"/>
<!-- yellow wires -->
<path d="M1210.6 747 L1210 920 Q1208 987 1160 988 Q1122 988 1114 940" stroke="#f3e81c" stroke-width="2.8" fill="none"/>
<path d="M1220.6 740 L1221 930 Q1220 1003 1162 1003 Q1114 1003 1108 940" stroke="#f3e81c" stroke-width="2.8" fill="none"/>
<!-- controller on canopy -->
<rect x="1108" y="895" width="18.4" height="37.5" fill="#6a3020"/>
<rect x="1108" y="895" width="5" height="37.5" fill="#c02020"/>
<rect x="1117" y="895" width="4" height="37.5" fill="#a09020"/>
<path d="M1045 777 L1179 779.5 L1196 813.5 L1037 817 L1038 782 Q1039 777 1045 777 Z" fill="#46464b"/>
<path d="M1037 817 L1196 813.5 L1193 893 L1040 897 Q1036 896 1036 890 Z" fill="#29292b"/>
<path d="M1037 817 L1196 813.5" stroke="#5a5a60" stroke-width="1.2"/>
<rect x="1158.5" y="817.5" width="5" height="4" fill="#eee"/>
<use href="#logoShape" transform="translate(1063.9 839.7) scale(0.2823 0.281)"/>
<!-- orange arrow -->
<path d="M1290.2 955 L1345.9 988 L1341 993.6 L1389.6 1036.8 L1383.6 1043.6 L1335 1000.4 L1330 1006 Z" fill="#e05a26"/>
<!-- green arrow -->
<path d="M1039 1053.3 L974 1149 L966.6 1142 L885.8 1229.5 L874.2 1218.5 L954.9 1131 L947.5 1124 Z" fill="#17a03e"/>
<!-- fan -->
<g id="fan">
 <path d="M699.5 1246.9 L735.5 1246.9 L826 1336 L784.8 1341.7 L699.5 1265.8 Z" fill="url(#bladeG1)"/>
 <path d="M883 1347 L995.2 1344.5 L995.2 1373 L883 1377.7 Q872 1372 872 1362 Q872 1350 883 1347 Z" fill="url(#bladeG2)"/>
 <path d="M777.7 1378.6 L818 1392.8 L740 1429.6 Q722 1431 706 1429 Q701 1427 704 1424 Z" fill="url(#bladeG1)"/>
 <path d="M807.5 1262 Q806 1252 830 1252 Q854 1252 853 1262 Q852 1278 840 1284 L820 1284 Q808 1278 807.5 1262 Z" fill="#d9ddb4"/>
 <ellipse cx="830" cy="1258" rx="20" ry="5.5" fill="#e6e9cc"/>
 <path d="M820 1282 L840 1282 L837 1292 L823 1292 Z" fill="#d2d6aa"/>
 <rect x="826.5" y="1290" width="7" height="32" fill="#dfe2c0"/>
 <ellipse cx="830" cy="1328" rx="9" ry="8" fill="#dcdfba"/>
 <path d="M818 1332 L842 1332 L848 1344 L812 1344 Z" fill="#d6daae"/>
 <path d="M853 1261.5 L874 1261.5" stroke="#222" stroke-width="2.4"/>
 <rect x="871.5" y="1260" width="5" height="5" fill="#222"/>
 <path d="M785.5 1360 Q786 1340 826.5 1340 Q867 1340 867.5 1360 Q867 1389 826.5 1389 Q786 1389 785.5 1360 Z" fill="#e0e3c3"/>
 <ellipse cx="826.5" cy="1352" rx="39" ry="12" fill="none" stroke="#c9c08e" stroke-width="2.4"/>
 <ellipse cx="826.5" cy="1364" rx="30" ry="12" fill="#e8eacf"/>
 <ellipse cx="827" cy="1380" rx="12" ry="7.5" fill="#c9ac74" stroke="#8a6a3a" stroke-width="1"/>
 <path d="M781 1316 Q792 1308 800 1318 Q806 1332 800 1341 Q792 1336 788 1328 Q782 1322 781 1316 Z" fill="#c9aa72" stroke="#7a5a30" stroke-width="1"/>
 <path d="M881 1362 Q890 1352 905 1356 Q918 1360 925 1372 Q905 1372 890 1368 Q882 1366 881 1362 Z" fill="#c9aa72" stroke="#7a5a30" stroke-width="1"/>
 <path d="M767 1393 Q780 1383 795 1382 Q803 1382 806 1386 Q790 1392 770 1397 Z" fill="#c9aa72" stroke="#7a5a30" stroke-width="1"/>
</g>
<ellipse cx="846.2" cy="1261.9" rx="55.3" ry="48.3" fill="none" stroke="#e8141b" stroke-width="5.3"/>
<!-- terminal photo -->
<g id="photo">
 <path d="M1346 1350 L1568 1350 L1562 1372 L1500 1408 L1461 1426 L1381 1422 L1356 1400 Z" fill="#6e5c4a"/>
 <path d="M1345 1218.5 L1555 1222 Q1568 1226 1570 1250 L1570 1345 Q1568 1361 1555 1362 L1345 1362 Q1332 1360 1332.5 1345 L1332.5 1232 Q1334 1218.5 1345 1218.5 Z" fill="url(#capG)"/>
 <path d="M1545 1226 Q1572 1240 1572 1295 Q1572 1350 1552 1361 L1532 1361 Q1550 1330 1550 1295 Q1550 1250 1525 1224 Z" fill="#c2a656"/>
 <rect x="1359.7" y="1156" width="83.6" height="228" fill="url(#rodG)"/>
 <ellipse cx="1380" cy="1175" rx="14" ry="17" fill="#6a5e52"/>
 <ellipse cx="1380" cy="1176" rx="10" ry="13" fill="#1e1812"/>
 <path d="M1352 1392 Q1350 1377 1380 1376 L1470 1376 Q1502 1378 1502 1395 Q1500 1418 1460 1424 L1385 1424 Q1356 1415 1352 1392 Z" fill="#2c2622"/>
 <path d="M1362 1388 Q1380 1383 1470 1384 Q1492 1386 1494 1392" stroke="#5c524a" stroke-width="2.5" fill="none"/>
 <path d="M1452 1300 L1556 1296 L1556 1318 L1452 1322 Z" fill="#e8e6e0"/>
 <path d="M1378 1268 C1450 1262 1520 1262 1568 1268" stroke="#b46c38" stroke-width="9" fill="none"/>
 <path d="M1378 1287 C1420 1278 1470 1272 1470 1290 C1470 1308 1445 1312 1428 1310" stroke="#e42626" stroke-width="8" fill="none"/>
 <path d="M1378 1312 C1450 1312 1520 1325 1560 1338" stroke="#b46c38" stroke-width="9" fill="none"/>
 <path d="M1382 1328 C1450 1332 1492 1345 1490 1372" stroke="#181826" stroke-width="4" fill="none"/>
 <path d="M1380 1365 C1392 1396 1470 1402 1500 1390 C1530 1372 1525 1342 1490 1336 L1440 1331" stroke="#e42626" stroke-width="8" fill="none"/>
 <path d="M1280 1249 L1370 1249 Q1378 1250 1378.8 1258 L1378.8 1385 Q1378 1392 1370 1392 L1282 1392 Q1275 1390 1274 1383 L1274 1256 Q1275 1249 1280 1249 Z" fill="#e8e5dc"/>
 <path d="M1374 1253 L1388 1253 L1388 1280 L1374 1280 Z" fill="#e4e1d8"/>
 <path d="M1374 1334 L1384 1334 L1384 1352 L1374 1352 Z" fill="#dcd8ce"/>
 <circle cx="1290" cy="1277" r="13" fill="#d6d2c8"/><circle cx="1290" cy="1277" r="9" fill="#3a2c20"/>
 <circle cx="1320.4" cy="1277" r="13" fill="#d6d2c8"/><circle cx="1320.4" cy="1278" r="10" fill="#7a6248"/>
 <circle cx="1290" cy="1321" r="13" fill="#f0eee4"/><circle cx="1291" cy="1321" r="6" fill="#f4eeb0"/>
 <circle cx="1320.4" cy="1321" r="13" fill="#d6d2c8"/><circle cx="1320.4" cy="1322" r="10" fill="#56422e"/>
 <circle cx="1290" cy="1361.5" r="13" fill="#d6d2c8"/><circle cx="1290" cy="1361.5" r="9" fill="#2a2018"/>
 <circle cx="1320.4" cy="1361.5" r="13" fill="#d6d2c8"/><circle cx="1320.4" cy="1362" r="10" fill="#4a3828"/>
</g>
<!-- bottom yellow wires -->
<path d="M1167.4 1244 L1167.4 1290 C1167.4 1330 1190 1345 1230 1352 L1291 1362.5" stroke="#fff200" stroke-width="7" fill="none"/>
<path d="M1205.8 1244 L1205.8 1268 C1206 1292 1222 1299 1242 1296 L1291 1277" stroke="#fff200" stroke-width="7" fill="none"/>
<!-- black pointer arrows -->
<path d="M1072 1382.5 L1118 1331" stroke="#000" stroke-width="3.6"/>
<path d="M1162 1281.6 L1120.7 1334.3 L1113.3 1327.7 Z" fill="#000"/>
<path d="M1157.5 1383.5 L1198 1338" stroke="#000" stroke-width="3.6"/>
<path d="M1233 1298 L1200.8 1341.3 L1193.3 1334.7 Z" fill="#000"/>

<g transform="translate(1139.39 446.72) scale(0.23284 0.22308)"><path fill="#111" stroke="#111" stroke-width="4.5" stroke-linejoin="round" fill-rule="evenodd" d="M438 129 413 129 361 64 357 67 353 72 400 128 399 129 37 129 37 139 38 140 56 140 57 141 54 144 51 150 51 153 50 154 50 164 55 174 62 181 70 186 63 193 58 203 57 212 56 213 57 224 60 231 66 239 77 247 79 247 85 250 94 251 95 252 106 252 107 251 112 251 122 248 132 243 142 236 153 226 165 209 169 198 170 183 166 172 157 163 150 161 148 159 148 141 149 140 264 140 265 141 265 164 264 165 209 165 203 167 198 170 194 174 189 182 187 188 187 201 188 202 188 206 196 225 206 239 214 248 225 258 229 254 232 249 225 243 215 232 207 221 202 211 199 201 199 190 200 187 205 180 211 177 264 177 265 178 265 258 277 258 277 141 278 140 344 140 345 141 345 178 344 181 338 187 333 189 326 188 316 179 311 170 304 174 301 178 359 259 366 255 368 252 330 200 331 199 341 199 347 196 402 196 403 197 403 258 415 258 415 141 416 140 437 140 438 139ZM139 172 145 172 152 175 157 181 157 184 158 185 158 190 157 191 156 198 151 207 143 215 141 215 135 210 132 206 127 194 127 184 128 181 134 174ZM357 141 358 140 402 140 403 141 403 183 402 184 357 184 356 183 356 180 357 179ZM72 140 135 140 136 141 136 159 134 161 131 161 126 164 120 170 116 178 116 182 115 183 115 194 119 207 125 217 133 226 124 233 110 239 95 240 82 236 79 234 70 224 69 217 68 216 69 208 72 201 75 197 81 192 86 190 100 190 100 178 81 178 80 177 77 177 68 172 63 166 62 163 62 155 65 148Z"/></g>
<text id="t_from" class="b" x="1077.5" y="543.8" font-size="43.3" textLength="252" lengthAdjust="spacingAndGlyphs" fill="#000">From ceiling</text>
<path d="M1179 557.5 L1197 557.5 L1197 586 L1206 586 L1188 614 L1169.5 586 L1179 586 Z" fill="#000"/>
<text id="t_230ac" class="b" x="1126" y="635.8" font-size="22.5" textLength="103" lengthAdjust="spacingAndGlyphs" fill="#222">230V, AC</text>
<text id="t_phase" x="1100.5" y="657.2" font-size="14.4" textLength="51" lengthAdjust="spacingAndGlyphs" fill="#333">PHASE</text>
<text id="t_neutral" x="1185.5" y="657.2" font-size="14.4" textLength="68.5" lengthAdjust="spacingAndGlyphs" fill="#333">NEUTRAL</text>
<text id="t_rr2" class="b" x="927.6" y="680.6" font-size="14.8" textLength="112.2" lengthAdjust="spacingAndGlyphs" fill="#111">RED-RED WIRE</text>
<text id="t_2302" class="b" x="927.6" y="697.7" font-size="15" textLength="98.1" lengthAdjust="spacingAndGlyphs" fill="#111">230V SUPPLY</text>
<path d="M1036 682.2 L1104 682.6 L1104 679.3 L1171 684 L1104 688 L1104 685.2 L1036 685.2 Z" fill="#000"/>
<text id="t_remote" class="b" x="834.2" y="832.2" font-size="20.2" textLength="89.7" lengthAdjust="spacingAndGlyphs" fill="#111">REMOTE</text>
<text id="t_rsensor" class="b" x="834.2" y="856" font-size="20.2" textLength="88.6" lengthAdjust="spacingAndGlyphs" fill="#111">SENSOR</text>

<text id="t_hole1" class="b" font-style="italic" x="1319" y="1069" font-size="25.7" textLength="264" lengthAdjust="spacingAndGlyphs" fill="#d8282d">THIS IS NOT A HOLE.</text>
<text id="t_hole2" class="b" font-style="italic" x="1318.4" y="1098.2" font-size="25.7" textLength="297" lengthAdjust="spacingAndGlyphs" fill="#d8282d">INSERT THIS PRODUCT</text>
<text id="t_hole3" class="b" font-style="italic" x="1318.4" y="1127.2" font-size="25.7" textLength="197" lengthAdjust="spacingAndGlyphs" fill="#d8282d">FROM TOPSIDE</text>

<text id="t_yy2" class="b" x="997.5" y="1404.4" font-size="25.6" textLength="228.5" lengthAdjust="spacingAndGlyphs" fill="#000">YELLOW-YELLOW</text>
<text id="t_tf2" class="b" x="1064" y="1433.3" font-size="26" textLength="92" lengthAdjust="spacingAndGlyphs" fill="#000">TO FAN</text>

</svg>
</body></html>
